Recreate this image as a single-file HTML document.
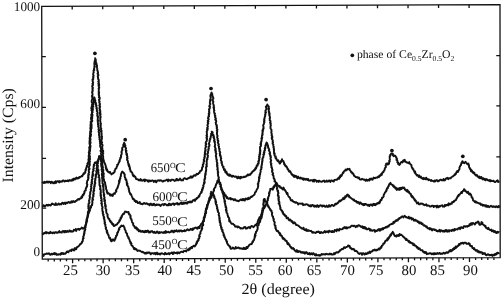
<!DOCTYPE html>
<html><head><meta charset="utf-8"><style>
html,body{margin:0;padding:0;background:#fff;}
body{width:503px;height:298px;overflow:hidden;}
svg{display:block;will-change:transform;}
text{font-family:"Liberation Serif",serif;fill:#111;text-rendering:geometricPrecision;}
</style></head><body>
<svg width="503" height="298" viewBox="0 0 503 298">
<rect width="503" height="298" fill="#fff"/>
<polygon points="41.7,6.35 500.0,4.6 500.2,257.55 42.3,259.05" fill="none" stroke="#111" stroke-width="1.3"/>
<path d="M48.18,259.03v2.4 M54.28,259.01v2.4 M60.39,258.99v2.4 M66.49,258.97v2.4 M72.60,258.95v4.4 M78.71,258.93v2.4 M84.81,258.91v2.4 M90.92,258.89v2.4 M97.02,258.87v2.4 M103.13,258.85v4.4 M109.24,258.83v2.4 M115.34,258.81v2.4 M121.45,258.79v2.4 M127.55,258.77v2.4 M133.66,258.75v4.4 M139.77,258.73v2.4 M145.87,258.71v2.4 M151.98,258.69v2.4 M158.08,258.67v2.4 M164.19,258.65v4.4 M170.30,258.63v2.4 M176.40,258.61v2.4 M182.51,258.59v2.4 M188.61,258.57v2.4 M194.72,258.55v4.4 M200.83,258.53v2.4 M206.93,258.51v2.4 M213.04,258.49v2.4 M219.14,258.47v2.4 M225.25,258.45v4.4 M231.36,258.43v2.4 M237.46,258.41v2.4 M243.57,258.39v2.4 M249.67,258.37v2.4 M255.78,258.35v4.4 M261.89,258.33v2.4 M267.99,258.31v2.4 M274.10,258.29v2.4 M280.20,258.27v2.4 M286.31,258.25v4.4 M292.42,258.23v2.4 M298.52,258.21v2.4 M304.63,258.19v2.4 M310.73,258.17v2.4 M316.84,258.15v4.4 M322.95,258.13v2.4 M329.05,258.11v2.4 M335.16,258.09v2.4 M341.26,258.07v2.4 M347.37,258.05v4.4 M353.48,258.03v2.4 M359.58,258.01v2.4 M365.69,257.99v2.4 M371.79,257.97v2.4 M377.90,257.95v4.4 M384.01,257.93v2.4 M390.11,257.91v2.4 M396.22,257.89v2.4 M402.32,257.87v2.4 M408.43,257.85v4.4 M414.54,257.83v2.4 M420.64,257.81v2.4 M426.75,257.79v2.4 M432.85,257.77v2.4 M438.96,257.75v4.4 M445.07,257.73v2.4 M451.17,257.71v2.4 M457.28,257.69v2.4 M463.38,257.67v2.4 M469.49,257.65v4.4 M475.60,257.63v2.4 M481.70,257.61v2.4 M487.81,257.59v2.4 M493.91,257.57v2.4 M72.20,6.23v3.2 M102.73,6.12v3.2 M133.26,6.00v3.2 M163.79,5.88v3.2 M194.32,5.77v3.2 M224.85,5.65v3.2 M255.38,5.53v3.2 M285.91,5.42v3.2 M316.44,5.30v3.2 M346.97,5.18v3.2 M377.50,5.07v3.2 M408.03,4.95v3.2 M438.56,4.83v3.2 M469.09,4.72v3.2 M42.18,208.10h4 M500.16,207.00h-3.8 M42.06,158.40h4 M500.12,156.90h-3.8 M41.94,107.30h4 M500.08,105.90h-3.8 M41.82,56.60h4 M500.04,55.60h-3.8" fill="none" stroke="#111" stroke-width="1.3"/>
<path d="M42.0,183.1L42.7,182.6L43.3,182.2L44.0,183.1L44.7,181.8L45.3,182.7L46.0,182.2L46.6,181.6L47.2,182.5L47.8,181.6L48.4,182.4L49.0,181.6L49.6,181.7L50.2,182.3L50.8,183.2L51.4,181.7L52.0,181.9L52.6,182.7L53.2,183.3L53.8,182.5L54.4,182.1L55.0,183.2L55.6,181.2L56.2,182.8L56.8,181.6L57.4,181.2L58.0,181.1L58.6,181.5L59.2,182.4L59.8,181.1L60.4,181.8L61.0,181.9L61.6,181.3L62.2,181.6L62.8,180.5L63.4,180.5L64.0,180.7L64.6,181.6L65.2,181.0L65.8,180.7L66.4,181.1L67.0,180.8L67.6,180.4L68.2,181.3L68.8,181.0L69.4,180.0L70.0,180.5L70.6,180.3L71.2,180.8L71.8,180.3L72.4,179.3L73.0,180.5L73.6,178.6L74.2,179.0L74.8,179.6L75.4,178.2L76.0,178.7L76.6,177.5L77.1,178.5L77.7,178.5L78.2,177.9L78.8,178.2L79.3,176.9L79.9,177.4L80.4,176.9L81.0,176.7L81.5,176.0L81.9,176.4L82.3,176.2L82.8,174.8L83.2,174.8L83.7,173.1L84.1,174.0L84.7,173.2L85.3,172.6L85.4,172.0L85.1,171.4L85.4,170.8L85.9,170.2L85.5,169.6L86.2,169.0L86.1,168.4L86.2,167.9L86.3,167.3L87.2,166.7L86.8,166.1L87.1,165.6L87.4,165.0L88.0,164.4L87.3,163.7L87.8,163.1L88.1,162.5L88.5,161.8L88.6,161.2L88.8,160.5L88.3,159.9L88.6,159.3L88.6,158.6L89.3,158.0L89.4,157.4L88.6,156.8L88.7,156.2L88.8,155.6L88.8,155.0L89.1,154.4L89.2,153.8L89.0,153.2L88.7,152.6L89.2,152.0L89.2,151.4L89.4,150.8L89.8,150.2L89.6,149.6L89.5,149.0L89.6,148.4L89.7,147.8L89.1,147.2L90.0,146.6L89.9,146.0L90.0,145.4L90.0,144.8L89.6,144.2L89.7,143.6L89.4,143.0L90.0,142.4L89.5,141.8L89.5,141.2L89.7,140.6L89.7,140.0L89.9,139.4L89.6,138.8L89.6,138.2L89.8,137.6L89.8,137.0L90.1,136.4L89.8,135.8L90.7,135.2L90.4,134.6L90.0,134.0L90.1,133.4L90.3,132.8L90.3,132.1L90.1,131.5L90.9,130.9L91.1,130.3L90.6,129.7L90.6,129.1L90.3,128.5L90.3,127.9L90.6,127.3L90.5,126.7L91.1,126.1L90.5,125.5L90.4,124.9L91.4,124.3L91.0,123.7L90.6,123.1L91.1,122.5L90.6,121.9L91.1,121.3L91.6,120.7L91.5,120.1L91.4,119.5L91.0,118.9L91.1,118.2L91.0,117.6L91.6,117.0L91.4,116.4L91.7,115.8L91.3,115.2L91.2,114.6L91.8,114.0L92.0,113.4L91.9,112.8L91.9,112.2L92.0,111.6L91.9,111.0L91.4,110.4L91.8,109.8L91.6,109.2L91.3,108.6L91.3,108.0L91.6,107.4L91.6,106.8L92.1,106.2L92.3,105.6L91.8,105.0L92.4,104.4L92.4,103.8L92.4,103.2L91.8,102.6L91.7,102.0L91.7,101.4L91.7,100.8L91.8,100.2L92.2,99.6L92.5,99.0L92.5,98.4L92.1,97.8L92.3,97.2L92.5,96.6L91.8,96.0L92.4,95.4L92.6,94.8L92.5,94.2L92.5,93.6L92.3,93.0L92.0,92.4L92.6,91.8L92.2,91.2L92.7,90.6L92.9,90.0L92.4,89.3L92.4,88.7L93.0,88.1L92.8,87.5L92.2,86.9L92.2,86.3L92.3,85.7L93.0,85.1L93.0,84.5L92.3,83.9L93.0,83.3L93.2,82.7L92.9,82.0L92.6,81.4L92.9,80.8L92.5,80.2L92.4,79.6L93.4,79.0L93.1,78.4L93.1,77.8L93.5,77.2L93.1,76.6L93.6,76.0L93.6,75.4L93.1,74.8L93.2,74.2L93.3,73.6L93.3,73.0L93.8,72.4L93.5,71.8L93.7,71.2L93.5,70.6L94.4,70.0L93.9,69.4L94.0,68.8L94.2,68.2L94.6,67.6L94.2,67.0L94.8,66.4L94.4,65.7L94.5,65.1L94.6,64.5L94.2,63.9L94.7,63.2L94.5,62.6L94.4,62.0L95.2,61.3L94.7,60.7L95.1,60.1L95.4,59.5L95.3,58.8L95.1,58.2L95.4,58.8L95.6,59.5L95.9,60.1L95.4,60.7L95.9,61.3L95.7,62.0L95.9,62.6L96.5,63.2L96.3,63.9L96.5,64.5L96.8,65.1L97.1,65.7L96.7,66.4L97.0,67.0L97.0,67.6L97.1,68.2L97.3,68.8L97.2,69.4L97.3,70.0L97.4,70.6L97.9,71.2L97.7,71.8L98.0,72.4L98.1,73.0L97.5,73.6L97.9,74.2L98.4,74.8L98.4,75.4L97.7,76.0L97.8,76.6L98.2,77.2L97.9,77.8L98.2,78.4L98.1,79.0L98.7,79.6L98.8,80.2L99.0,80.8L98.2,81.4L98.8,82.0L98.8,82.7L98.3,83.3L99.1,83.9L99.2,84.5L98.4,85.1L99.2,85.7L98.7,86.3L98.8,86.9L99.3,87.5L99.2,88.1L98.5,88.7L98.8,89.3L98.9,90.0L98.8,90.6L98.6,91.2L98.8,91.8L99.2,92.4L98.5,93.0L99.1,93.6L99.0,94.2L98.6,94.8L99.0,95.4L99.3,96.0L99.2,96.6L98.8,97.2L99.8,97.8L99.6,98.4L99.8,99.0L99.0,99.6L99.2,100.2L99.0,100.8L99.7,101.4L99.3,102.0L99.2,102.6L99.5,103.2L100.0,103.8L100.0,104.4L99.4,105.0L99.3,105.6L100.2,106.2L99.8,106.8L100.0,107.4L99.4,108.0L99.4,108.6L100.1,109.2L99.9,109.8L99.5,110.4L100.4,111.0L100.2,111.6L100.4,112.2L99.7,112.8L100.5,113.4L99.8,114.0L100.6,114.6L100.2,115.2L100.1,115.8L100.4,116.4L100.8,117.0L100.2,117.6L100.1,118.2L100.5,118.9L100.3,119.5L100.2,120.1L100.3,120.7L100.2,121.3L100.4,121.9L100.5,122.5L100.6,123.1L101.0,123.7L100.6,124.3L100.9,124.9L100.6,125.5L100.8,126.1L100.5,126.7L100.8,127.3L100.6,127.9L101.3,128.5L101.2,129.1L100.9,129.7L101.2,130.3L101.7,130.9L100.9,131.5L101.6,132.1L101.3,132.8L101.4,133.4L101.8,134.0L101.4,134.6L101.5,135.2L101.7,135.8L102.1,136.4L101.5,137.0L102.0,137.6L101.9,138.2L101.9,138.8L101.7,139.4L101.6,140.0L101.4,140.6L101.5,141.2L101.5,141.8L102.2,142.4L101.8,143.0L101.8,143.6L101.7,144.2L102.5,144.8L102.6,145.4L102.5,146.0L102.1,146.6L102.1,147.2L102.2,147.8L102.5,148.4L102.2,149.0L102.5,149.6L102.4,150.2L103.2,150.8L103.2,151.4L102.8,152.0L102.6,152.6L103.4,153.2L102.8,153.8L102.9,154.4L102.6,155.0L103.0,155.6L103.1,156.2L103.2,156.8L103.0,157.4L103.3,158.0L103.0,158.6L103.4,159.2L103.4,159.8L103.9,160.4L103.7,161.0L103.8,161.6L104.3,162.2L104.4,162.8L104.9,163.4L105.0,164.0L105.4,164.6L105.4,165.2L105.7,165.8L106.0,166.4L105.7,167.0L105.8,167.6L106.6,168.2L105.9,168.8L106.7,169.4L106.6,170.3L107.1,169.5L107.6,171.4L108.0,171.9L108.5,171.7L109.0,172.3L109.5,172.8L110.0,171.9L110.4,173.0L110.9,173.3L111.4,174.4L111.9,174.0L112.5,173.7L113.0,172.9L113.5,173.2L114.1,172.4L114.8,171.7L114.6,171.1L114.6,170.6L115.0,170.0L115.4,169.5L115.4,168.9L116.4,168.3L116.4,167.8L116.7,167.2L116.9,166.6L117.2,166.1L117.3,165.5L117.1,165.0L117.8,165.0L118.1,164.3L118.4,163.3L118.7,162.8L119.1,162.4L119.4,160.7L119.7,161.4L119.8,160.4L119.7,159.8L120.0,159.2L120.6,158.6L120.2,158.0L120.9,157.4L121.2,156.8L120.9,156.3L120.9,155.7L121.1,155.1L121.5,154.5L121.7,153.9L121.7,153.3L121.8,152.7L121.4,152.1L121.6,151.5L121.8,150.9L122.4,150.3L122.1,149.7L122.5,149.2L122.1,148.6L122.2,148.0L122.6,147.4L123.1,146.8L123.3,146.2L123.4,145.6L123.2,144.9L123.7,144.2L123.9,143.5L124.2,142.8L124.0,143.4L124.9,144.0L124.4,144.7L125.3,145.3L125.4,145.9L124.7,146.5L125.3,147.1L125.8,147.8L126.1,148.4L125.7,149.0L125.7,149.6L125.7,150.2L126.5,150.8L125.9,151.4L126.4,152.1L126.0,152.7L126.5,153.3L127.1,153.9L126.3,154.5L127.1,155.1L126.9,155.7L127.4,156.3L127.3,156.9L126.9,157.6L127.7,158.2L127.4,158.8L127.0,159.4L127.1,160.0L127.7,160.6L127.9,161.2L127.9,161.8L127.8,162.4L128.2,163.0L128.3,163.6L129.0,164.2L128.3,164.8L129.2,165.3L129.4,165.9L128.9,166.5L129.8,167.1L129.8,167.7L130.1,168.3L129.6,168.9L130.0,169.2L130.3,169.8L130.6,171.6L130.9,171.3L131.2,171.4L131.5,172.1L131.8,172.4L132.1,172.4L132.4,173.1L132.7,175.1L133.0,174.6L133.4,176.3L133.9,175.4L134.3,175.8L134.7,176.7L135.1,176.5L135.6,177.3L136.0,178.9L136.6,179.1L137.1,179.2L137.7,179.1L138.3,180.0L138.9,180.3L139.4,179.8L140.0,180.4L140.6,179.1L141.2,180.6L141.8,180.1L142.4,180.7L143.0,180.5L143.6,179.9L144.2,179.4L144.8,181.3L145.4,179.7L146.0,180.4L146.6,180.2L147.2,180.2L147.8,181.2L148.4,181.7L149.0,180.3L149.6,181.2L150.2,180.6L150.8,181.2L151.4,180.9L152.0,180.5L152.6,180.5L153.2,180.6L153.8,182.0L154.4,181.2L155.1,180.6L155.7,182.0L156.3,182.2L156.9,181.1L157.5,180.4L158.2,180.5L158.8,180.3L159.4,180.7L160.1,180.2L160.7,180.5L161.4,180.5L162.0,181.0L162.6,181.6L163.3,181.3L163.9,180.6L164.5,180.6L165.1,180.7L165.7,180.4L166.3,180.2L166.9,179.6L167.5,180.0L168.1,181.3L168.7,179.6L169.4,180.3L170.0,180.5L170.7,181.0L171.3,179.6L171.9,179.7L172.6,179.6L173.2,179.9L173.9,179.9L174.5,180.9L175.2,180.6L175.8,180.6L176.4,178.9L177.0,178.9L177.6,180.2L178.2,180.5L178.8,179.6L179.4,179.8L180.0,178.6L180.6,179.3L181.2,180.4L181.8,180.1L182.4,180.1L183.0,180.3L183.6,178.7L184.3,178.3L184.9,178.2L185.5,178.8L186.1,178.9L186.8,179.3L187.4,178.6L188.0,178.3L188.7,178.4L189.3,177.6L189.9,177.6L190.5,176.4L191.2,177.7L191.8,176.4L192.4,177.5L192.9,176.7L193.5,175.8L194.1,175.2L194.6,175.2L195.2,175.7L195.7,175.6L196.3,174.2L196.9,173.8L197.5,174.3L198.0,174.1L198.6,173.3L199.2,172.6L199.6,172.8L200.1,171.0L200.6,171.0L201.0,170.8L201.7,170.2L201.6,169.6L202.1,169.1L202.0,168.5L202.0,167.9L202.2,167.3L203.1,166.6L203.1,166.0L202.8,165.3L202.7,164.7L203.4,164.0L203.7,163.4L203.5,162.8L203.5,162.2L204.0,161.6L204.4,160.9L203.8,160.3L203.7,159.7L204.1,159.1L204.3,158.5L204.7,157.9L204.2,157.3L204.9,156.7L204.9,156.1L204.7,155.5L204.5,154.9L205.3,154.3L204.8,153.7L205.3,153.1L204.8,152.5L204.9,151.9L205.5,151.3L205.1,150.7L205.8,150.1L205.4,149.5L205.2,148.9L205.3,148.2L205.5,147.6L205.9,147.0L206.2,146.4L205.5,145.8L205.8,145.2L205.7,144.6L206.5,144.0L205.7,143.4L205.7,142.8L205.8,142.2L206.2,141.6L206.8,141.0L206.8,140.4L206.7,139.8L207.1,139.2L207.1,138.6L206.5,138.0L206.4,137.4L207.2,136.7L207.1,136.1L206.4,135.5L207.1,134.9L206.8,134.2L206.9,133.6L206.9,133.0L206.8,132.3L206.6,131.7L207.0,131.1L207.1,130.5L207.7,129.8L206.9,129.2L207.8,128.6L207.1,128.0L207.4,127.4L207.9,126.8L207.9,126.2L207.6,125.6L207.3,125.0L207.8,124.4L207.8,123.8L208.4,123.1L207.7,122.5L207.9,121.9L208.5,121.3L207.7,120.7L208.2,120.1L208.7,119.5L208.7,118.9L208.0,118.3L208.1,117.7L208.2,117.1L209.1,116.5L208.5,115.9L209.0,115.3L209.2,114.7L208.7,114.1L208.7,113.5L209.5,112.9L209.2,112.3L208.9,111.7L209.4,111.0L209.1,110.4L209.1,109.8L208.9,109.2L209.7,108.6L209.9,108.0L209.7,107.4L210.1,106.8L209.2,106.2L209.5,105.6L209.8,105.0L210.3,104.4L210.4,103.8L209.8,103.1L209.8,102.5L210.0,101.9L210.1,101.2L210.6,100.6L209.9,100.0L210.6,99.4L210.5,98.8L210.7,98.1L210.7,97.5L210.6,96.9L210.3,96.2L210.4,95.6L210.6,94.7L210.9,94.9L211.3,92.9L211.6,92.5L211.9,94.2L212.3,93.9L212.2,95.0L212.2,95.6L212.8,96.2L212.6,96.9L213.3,97.5L213.2,98.1L213.4,98.8L212.7,99.4L212.6,100.0L212.6,100.6L213.1,101.2L213.4,101.9L213.1,102.5L213.0,103.1L213.2,103.8L213.5,104.4L213.6,105.0L213.7,105.6L213.9,106.2L213.8,106.8L213.4,107.4L214.2,108.0L213.7,108.6L214.1,109.2L214.0,109.8L214.4,110.4L214.0,111.0L214.1,111.7L214.2,112.3L214.2,112.9L215.0,113.5L214.8,114.1L214.7,114.7L214.8,115.3L215.5,115.9L215.1,116.5L214.9,117.1L215.6,117.7L215.5,118.3L216.0,118.9L215.2,119.5L215.6,120.1L216.1,120.7L216.2,121.3L216.3,121.9L215.6,122.5L215.9,123.1L215.8,123.8L216.0,124.4L216.8,125.0L216.5,125.6L217.0,126.2L216.5,126.8L217.1,127.4L216.8,128.0L216.7,128.6L217.3,129.2L217.5,129.8L216.7,130.5L217.2,131.1L217.3,131.7L216.9,132.3L217.1,133.0L216.9,133.6L217.0,134.2L217.1,134.9L217.5,135.5L217.6,136.1L217.2,136.7L217.1,137.4L217.4,138.0L217.9,138.6L217.5,139.2L217.7,139.8L217.7,140.4L218.4,141.0L218.2,141.6L217.8,142.2L217.9,142.8L218.3,143.4L218.6,144.0L218.8,144.6L218.3,145.2L218.5,145.8L219.1,146.5L218.9,147.1L218.9,147.7L219.0,148.3L219.7,148.9L219.2,149.5L219.5,150.1L219.4,150.7L219.5,151.3L220.1,151.9L220.3,152.5L219.8,153.1L219.7,153.7L220.3,154.3L219.9,154.9L219.8,155.5L220.9,156.1L220.5,156.7L221.0,157.3L220.7,157.9L221.3,158.6L221.0,159.2L220.8,159.8L220.8,160.4L221.4,161.0L221.6,161.6L222.0,162.2L221.3,162.8L221.9,163.4L221.9,164.0L222.3,164.6L222.1,165.1L222.5,165.7L222.9,166.3L223.6,166.8L223.0,167.4L223.6,168.0L223.9,169.2L224.2,170.1L224.6,169.1L224.9,169.6L225.2,171.8L225.5,172.5L225.9,171.9L226.4,171.5L226.8,173.8L227.2,173.2L227.6,174.7L228.1,174.6L228.5,175.4L229.1,174.3L229.7,175.8L230.3,174.8L230.9,175.4L231.5,176.5L232.1,176.7L232.7,175.6L233.3,175.8L233.9,176.4L234.5,176.8L235.1,176.8L235.7,176.4L236.3,176.8L236.9,177.8L237.5,178.3L238.2,176.6L238.8,177.8L239.4,178.2L240.0,176.9L240.6,178.4L241.2,176.8L241.8,177.6L242.4,177.4L243.0,177.4L243.6,176.7L244.2,176.8L244.8,177.0L245.4,176.4L245.9,176.6L246.5,175.9L247.0,175.6L247.6,174.5L248.1,175.5L248.7,174.9L249.2,174.2L249.8,175.0L250.3,174.7L250.9,173.8L251.4,172.8L251.8,172.9L252.3,171.7L252.8,171.3L253.2,171.4L253.7,170.3L254.2,170.5L254.6,170.2L255.1,168.8L255.4,169.4L255.6,167.8L255.9,168.5L256.2,168.1L256.5,167.0L256.7,165.5L257.0,165.9L257.3,165.1L257.6,165.7L257.8,163.5L258.5,163.7L258.7,163.1L258.6,162.5L258.8,161.9L258.2,161.3L259.1,160.7L258.8,160.1L259.3,159.5L259.4,158.8L258.8,158.2L259.5,157.6L259.8,157.0L259.0,156.4L259.4,155.8L259.9,155.2L259.4,154.6L260.3,154.0L259.7,153.4L260.3,152.8L259.7,152.2L260.1,151.6L260.6,151.0L259.9,150.4L260.0,149.8L260.3,149.2L260.1,148.6L259.9,148.0L260.1,147.4L260.1,146.8L260.9,146.2L260.8,145.6L261.1,145.0L260.4,144.4L261.1,143.8L260.6,143.2L261.1,142.6L261.3,142.0L261.1,141.4L261.7,140.8L261.5,140.1L261.6,139.5L262.0,138.9L261.3,138.3L262.3,137.7L262.0,137.1L261.8,136.5L262.3,135.9L261.9,135.3L262.7,134.7L262.4,134.1L262.3,133.5L262.8,132.9L262.5,132.3L262.4,131.7L263.0,131.1L262.4,130.5L263.3,129.9L262.8,129.3L263.3,128.7L263.7,128.1L263.4,127.4L263.6,126.8L263.3,126.2L263.1,125.6L263.3,125.0L263.5,124.4L264.0,123.8L263.9,123.2L264.1,122.6L264.6,122.0L263.9,121.4L264.1,120.8L264.6,120.2L264.1,119.6L264.2,119.0L264.6,118.4L264.5,117.8L264.8,117.2L264.8,116.6L265.2,116.0L265.3,115.4L265.0,114.8L265.5,114.2L265.5,113.6L265.2,112.9L266.1,112.3L265.5,111.7L265.4,111.0L265.5,110.4L266.1,109.8L266.4,109.2L266.4,108.5L266.1,107.9L266.0,107.3L265.8,106.6L266.4,106.3L266.9,105.5L267.3,104.5L267.9,105.7L268.3,106.0L268.9,106.6L268.8,107.2L268.4,107.8L269.1,108.5L268.3,109.1L268.9,109.7L268.8,110.3L268.8,110.9L268.7,111.5L269.4,112.2L268.8,112.8L269.4,113.4L269.8,114.0L269.1,114.6L269.2,115.2L269.7,115.9L269.7,116.5L269.9,117.1L270.1,117.8L269.6,118.4L269.8,119.0L269.8,119.6L269.6,120.2L270.5,120.9L270.5,121.5L270.5,122.1L269.9,122.8L270.8,123.4L270.7,124.0L270.5,124.6L270.9,125.2L270.7,125.9L270.5,126.5L270.4,127.1L270.6,127.8L270.5,128.4L270.9,129.0L271.4,129.6L271.4,130.2L271.6,130.9L271.5,131.5L271.2,132.1L271.5,132.8L271.5,133.4L271.9,134.0L271.7,134.6L271.5,135.2L272.0,135.8L272.4,136.4L271.7,137.1L272.5,137.7L271.7,138.3L272.0,138.9L272.1,139.5L272.6,140.1L272.9,140.7L272.8,141.3L272.5,141.9L273.1,142.5L272.6,143.1L272.6,143.8L273.4,144.4L273.2,145.0L273.3,145.6L273.4,146.2L273.8,146.8L273.4,147.4L273.8,148.0L273.8,148.6L274.1,149.2L273.7,149.8L274.1,150.4L274.1,151.0L273.9,151.6L273.9,152.2L274.4,152.8L274.0,153.4L274.9,154.0L274.4,154.6L274.5,155.2L274.7,155.8L275.8,156.4L275.4,157.0L275.4,157.6L275.5,158.2L276.2,157.9L276.6,159.7L277.0,160.0L277.4,160.6L277.8,161.2L278.3,160.3L278.7,161.8L279.1,161.9L279.5,163.3L279.9,163.7L280.2,163.4L280.6,161.2L280.9,162.2L281.3,161.8L281.6,161.3L282.0,159.1L282.0,159.4L282.2,160.0L282.3,160.5L283.4,161.1L283.6,161.6L283.6,162.2L284.1,162.7L284.1,163.2L284.0,163.8L284.1,164.3L284.7,164.1L285.1,165.9L285.4,165.3L285.8,166.0L286.1,166.7L286.5,166.3L286.9,167.3L287.2,167.8L287.6,169.2L287.9,169.0L288.3,169.3L288.7,171.1L289.1,170.7L289.5,171.9L289.9,171.9L290.3,171.3L290.7,172.5L291.1,173.1L291.5,174.2L291.9,173.9L292.3,175.1L292.7,175.3L293.1,175.1L293.7,176.7L294.2,175.3L294.8,177.0L295.3,176.0L295.9,175.8L296.4,176.5L297.0,177.8L297.6,178.4L298.2,176.6L298.8,177.7L299.4,177.9L300.1,178.6L300.7,177.6L301.3,178.3L301.9,178.2L302.5,179.3L303.1,178.3L303.7,179.8L304.3,178.6L304.9,178.6L305.6,179.7L306.2,179.4L306.8,178.8L307.4,179.9L308.0,178.9L308.6,180.5L309.3,180.4L309.9,180.7L310.5,180.5L311.1,180.1L311.7,180.3L312.3,180.3L313.0,181.4L313.6,179.8L314.2,181.5L314.8,179.8L315.5,180.2L316.1,180.4L316.7,181.8L317.3,181.0L318.0,180.8L318.6,181.9L319.2,180.7L319.8,181.1L320.4,181.3L321.0,181.7L321.7,181.7L322.3,181.5L322.9,180.9L323.5,180.9L324.1,180.5L324.7,181.9L325.4,181.5L326.0,181.7L326.6,180.5L327.2,181.1L327.8,181.7L328.5,181.3L329.1,180.4L329.8,181.0L330.4,181.9L331.1,180.5L331.7,180.4L332.4,180.6L333.0,181.4L333.7,181.5L334.4,180.0L335.1,179.8L335.8,179.9L336.5,179.9L337.0,179.8L337.5,178.6L338.0,178.5L338.5,177.8L339.0,179.0L339.4,178.0L339.8,176.2L340.2,177.4L340.6,175.2L341.0,175.3L341.4,176.0L341.8,175.1L342.2,174.5L342.6,173.4L343.0,172.4L343.5,172.8L344.0,171.2L344.5,170.9L345.0,170.8L345.5,169.6L346.0,169.9L346.5,170.3L347.0,169.6L347.5,168.8L348.2,169.3L348.8,169.2L349.5,168.8L349.9,170.2L350.3,170.3L350.8,171.5L351.2,172.3L351.6,171.9L352.0,172.6L352.4,173.5L352.9,173.3L353.3,173.5L353.7,174.9L354.1,175.8L354.6,176.0L355.0,176.4L355.6,177.0L356.1,177.0L356.7,177.3L357.2,177.2L357.8,177.3L358.3,178.3L358.9,177.5L359.4,178.5L360.0,179.6L360.6,179.5L361.2,179.5L361.9,178.8L362.5,179.2L363.1,179.4L363.8,179.8L364.4,179.5L365.0,180.2L365.6,180.8L366.2,179.4L366.9,180.4L367.5,180.8L368.1,179.8L368.7,179.8L369.4,180.6L370.0,178.6L370.6,179.4L371.2,178.5L371.9,179.5L372.5,179.7L373.1,178.6L373.7,177.6L374.3,178.3L374.8,178.0L375.4,178.2L376.0,177.5L376.6,177.6L377.2,177.7L377.8,176.9L378.3,176.5L378.9,177.3L379.5,175.6L379.9,176.1L380.4,175.1L380.8,175.4L381.3,173.7L381.7,174.9L382.2,173.2L382.6,172.2L383.1,172.2L383.4,172.2L383.3,171.6L383.9,171.0L384.2,170.4L384.7,169.8L384.6,169.2L384.8,168.6L385.0,168.0L385.7,167.4L386.0,166.8L385.7,166.2L385.5,165.5L386.2,164.9L386.0,164.1L386.6,163.6L387.2,163.3L387.8,164.5L388.4,164.4L389.1,163.7L389.0,163.1L389.2,162.5L389.0,161.9L389.8,161.2L389.2,160.6L389.6,160.0L389.9,159.4L389.9,158.8L389.7,158.2L389.6,157.6L389.9,156.9L389.6,156.3L390.4,155.7L390.1,154.8L390.6,155.3L391.1,153.6L391.6,153.4L392.4,153.4L393.0,154.1L392.9,154.7L392.9,155.3L393.7,156.0L393.6,156.2L394.1,155.8L394.6,155.5L395.1,155.6L395.4,156.0L395.8,156.9L396.3,157.1L396.1,157.8L396.9,158.4L397.0,159.1L396.3,159.8L397.3,160.4L397.5,161.1L397.6,161.7L397.2,162.2L398.2,162.8L398.2,163.4L397.9,163.9L398.6,163.5L399.4,165.0L400.1,164.0L400.6,162.9L401.2,162.2L401.7,162.0L402.1,161.7L402.5,162.4L402.9,161.1L403.4,160.3L403.8,161.3L404.2,160.7L404.7,159.8L405.2,161.7L405.7,161.5L406.2,162.3L406.8,162.2L407.4,162.9L408.0,162.9L408.6,163.2L409.2,162.1L409.6,163.5L410.0,163.7L410.5,164.5L410.8,164.5L411.5,165.1L411.5,165.7L411.5,166.3L411.7,166.9L411.9,167.4L412.5,168.0L412.3,168.6L413.0,169.2L413.3,169.1L413.7,170.3L414.0,170.9L414.4,171.5L414.7,172.7L415.1,171.5L415.4,173.7L415.8,173.5L416.1,174.2L416.5,174.9L417.0,175.6L417.6,175.1L418.1,175.5L418.7,176.9L419.2,175.5L419.8,177.0L420.3,177.4L420.9,176.5L421.4,178.0L422.0,178.3L422.6,178.9L423.2,177.8L423.8,179.2L424.4,178.3L425.0,178.4L425.6,179.3L426.2,177.7L426.8,179.3L427.4,179.3L427.9,179.0L428.5,180.2L429.1,179.5L429.7,179.9L430.3,180.2L430.9,181.0L431.4,180.1L432.0,180.7L432.6,180.9L433.2,181.1L433.8,181.6L434.4,180.5L435.0,181.5L435.6,180.5L436.2,180.7L436.8,180.1L437.4,180.5L438.0,181.4L438.6,180.7L439.2,180.9L439.9,179.9L440.5,179.8L441.1,179.7L441.7,180.2L442.3,180.2L442.9,180.5L443.6,178.9L444.2,180.2L444.8,180.5L445.4,179.6L446.0,178.4L446.6,178.6L447.2,177.8L447.8,178.0L448.3,179.2L448.9,178.4L449.5,178.3L450.1,178.3L450.7,178.3L451.2,177.3L451.8,177.0L452.4,176.6L452.9,176.4L453.4,175.8L454.0,175.6L454.6,174.3L455.1,174.8L455.5,173.9L455.9,174.0L456.3,172.2L456.7,171.9L457.2,171.1L457.6,172.1L458.0,171.9L458.4,170.9L458.7,170.1L459.3,169.5L459.5,168.9L459.5,168.3L459.4,167.7L459.7,167.1L460.0,166.6L460.2,166.0L460.5,165.4L460.9,164.8L461.0,165.1L461.4,162.8L461.8,163.2L462.1,161.6L462.5,161.2L463.1,162.8L463.7,162.4L464.3,163.3L464.9,162.5L465.5,161.7L466.1,162.6L466.7,163.2L467.2,164.1L467.8,164.3L468.4,163.5L468.5,164.1L468.4,164.7L469.1,165.3L468.9,165.9L469.1,166.5L469.1,167.1L469.3,167.7L470.2,168.3L469.8,168.9L470.9,169.5L470.6,169.3L471.0,171.3L471.5,170.2L471.9,170.5L472.4,172.3L472.8,171.8L473.3,173.2L473.8,172.5L474.3,172.6L474.8,174.5L475.3,174.8L475.8,175.5L476.3,175.6L476.8,174.8L477.3,176.3L477.8,176.7L478.4,176.5L478.9,177.7L479.4,176.6L480.0,178.3L480.5,178.1L481.1,176.9L481.6,177.2L482.1,178.8L482.7,179.4L483.2,178.2L483.8,178.8L484.4,179.8L485.0,178.8L485.6,180.3L486.1,179.7L486.7,179.0L487.3,179.8L487.9,180.3L488.5,180.2L489.1,180.9L489.8,179.9L490.4,181.3L491.1,180.5L491.7,181.1L492.4,181.1L493.0,180.8L493.7,180.8L494.3,181.7L495.0,182.1L495.6,181.8L496.3,181.3L496.9,180.8L497.6,180.3L498.2,182.1L498.9,181.6L499.5,181.2" fill="none" stroke="#111" stroke-width="1.9" stroke-linejoin="round"/>
<path d="M42.4,205.7L43.0,206.3L43.6,205.2L44.2,205.7L44.8,206.4L45.4,206.0L46.0,205.5L46.6,204.8L47.2,205.0L47.8,205.8L48.4,204.7L49.0,205.2L49.7,205.0L50.3,205.5L50.9,205.3L51.5,204.1L52.1,203.5L52.7,204.0L53.3,204.2L53.9,204.5L54.5,204.9L55.1,205.0L55.7,203.2L56.3,204.7L56.9,204.6L57.5,204.7L58.1,204.0L58.7,203.4L59.3,204.5L59.9,204.3L60.5,204.0L61.2,204.4L61.8,203.2L62.4,202.7L63.0,203.5L63.6,204.0L64.2,202.7L64.8,203.7L65.4,204.0L66.0,202.5L66.6,203.1L67.2,203.2L67.8,202.6L68.4,202.0L69.0,202.0L69.6,202.9L70.2,202.9L70.8,202.1L71.4,201.2L72.0,202.5L72.6,202.2L73.2,201.0L73.8,201.6L74.4,202.0L75.0,201.9L75.6,201.0L76.2,200.8L76.7,200.7L77.3,199.6L77.8,199.3L78.4,199.0L78.9,199.8L79.5,198.8L80.0,198.9L80.6,198.3L81.1,198.2L81.4,197.0L81.8,196.2L82.1,197.6L82.5,195.9L82.8,194.8L83.2,195.3L83.5,195.1L83.9,193.3L84.3,193.5L84.3,192.9L84.6,192.3L84.3,191.7L84.6,191.1L85.7,190.5L85.8,190.0L85.6,189.4L85.9,188.8L85.8,188.2L86.6,187.6L86.4,187.0L87.1,186.4L87.0,185.8L87.2,185.1L87.4,184.5L86.8,183.9L86.7,183.3L87.0,182.7L87.1,182.1L87.1,181.4L87.2,180.8L87.8,180.2L88.2,179.6L87.9,179.0L88.5,178.3L88.6,177.7L87.9,177.1L88.5,176.5L88.3,175.9L88.1,175.3L89.0,174.7L88.3,174.1L88.7,173.5L88.8,172.9L89.2,172.3L89.0,171.7L88.7,171.1L88.9,170.4L88.6,169.8L89.5,169.2L89.6,168.6L88.8,168.0L88.7,167.4L89.0,166.8L89.1,166.2L89.7,165.6L89.8,165.0L89.8,164.4L89.0,163.8L89.8,163.2L89.7,162.6L89.7,162.0L90.0,161.3L89.1,160.7L89.2,160.1L89.9,159.5L90.1,158.9L89.8,158.3L89.5,157.7L89.8,157.1L90.0,156.5L89.3,155.9L89.6,155.2L89.5,154.6L89.4,154.0L89.8,153.4L89.5,152.8L89.6,152.2L89.5,151.6L90.1,151.0L89.4,150.4L90.2,149.8L89.7,149.1L89.5,148.5L90.4,147.9L89.8,147.3L90.5,146.7L90.4,146.1L90.5,145.5L89.8,144.9L90.1,144.3L89.8,143.7L90.6,143.0L90.6,142.4L90.4,141.8L90.2,141.2L90.1,140.6L90.6,140.0L90.3,139.4L90.5,138.8L90.1,138.2L90.2,137.6L90.1,137.0L90.8,136.4L90.7,135.8L90.3,135.2L91.1,134.6L90.5,134.0L90.7,133.4L90.5,132.8L90.7,132.1L91.3,131.5L90.8,130.9L90.7,130.3L91.1,129.7L90.9,129.1L91.6,128.5L90.8,127.9L91.7,127.3L90.9,126.7L91.7,126.1L91.6,125.5L91.2,124.9L91.5,124.3L91.3,123.7L91.3,123.1L91.3,122.5L91.5,121.9L92.2,121.3L92.3,120.7L92.2,120.1L91.5,119.5L91.7,118.9L92.3,118.2L91.6,117.6L92.3,117.0L91.9,116.4L92.6,115.8L91.7,115.2L92.5,114.6L92.1,114.0L92.0,113.4L91.9,112.8L92.7,112.2L92.5,111.6L92.2,111.0L92.5,110.4L93.1,109.8L92.4,109.2L92.9,108.6L92.5,108.0L92.6,107.4L93.3,106.8L93.3,106.2L92.9,105.6L92.8,105.0L92.9,104.4L93.5,103.9L93.5,103.3L93.3,102.7L93.3,102.1L93.8,101.5L94.0,100.9L94.1,100.3L94.0,99.7L93.7,99.1L93.6,98.5L94.4,97.9L94.1,97.3L94.6,97.9L94.0,98.5L94.9,99.1L94.6,99.7L95.3,100.3L95.4,100.9L95.2,101.5L94.9,102.1L95.9,102.7L95.6,103.2L96.2,103.8L95.7,104.4L95.8,105.0L96.6,105.6L96.2,106.2L96.2,106.8L96.5,107.4L96.9,108.0L96.4,108.6L96.9,109.2L96.9,109.8L97.0,110.4L96.7,111.0L97.4,111.6L97.5,112.2L97.6,112.8L97.1,113.4L97.6,114.0L97.3,114.6L97.7,115.2L97.1,115.8L98.0,116.5L98.1,117.1L97.7,117.7L97.8,118.3L97.8,118.9L97.9,119.5L97.5,120.1L98.5,120.7L97.8,121.3L97.8,121.9L97.8,122.5L98.0,123.1L98.6,123.7L97.9,124.3L98.0,124.9L98.6,125.5L98.2,126.1L98.1,126.7L98.7,127.3L98.7,127.9L98.7,128.5L99.0,129.1L98.4,129.7L99.3,130.3L99.2,130.9L98.6,131.5L98.7,132.2L99.1,132.8L99.2,133.4L99.0,134.0L98.9,134.6L99.3,135.2L99.0,135.8L99.6,136.4L99.9,137.0L99.2,137.6L99.7,138.2L99.9,138.8L99.4,139.4L100.1,140.0L100.3,140.6L99.8,141.2L99.9,141.8L100.4,142.4L100.1,143.0L100.0,143.6L100.6,144.2L100.5,144.8L100.1,145.4L100.1,146.0L100.3,146.6L100.4,147.2L101.0,147.8L100.9,148.4L101.1,149.0L101.0,149.6L101.1,150.2L100.4,150.8L100.9,151.4L101.4,152.0L101.4,152.6L100.8,153.2L101.0,153.8L101.3,154.4L101.1,155.0L101.3,155.6L100.9,156.2L101.3,156.8L101.4,157.4L101.0,158.0L101.2,158.6L102.1,159.2L102.0,159.8L102.2,160.4L102.0,161.1L102.3,161.7L102.4,162.3L102.5,162.9L101.7,163.5L102.4,164.1L102.1,164.7L102.6,165.3L102.2,165.9L102.6,166.6L103.0,167.2L102.8,167.8L102.5,168.4L102.9,169.0L102.9,169.6L103.5,170.2L102.9,170.8L103.0,171.4L103.4,172.1L102.9,172.7L103.5,173.3L103.9,173.9L103.5,174.5L103.4,175.1L103.6,175.7L103.8,176.3L103.5,176.9L103.5,177.6L103.6,178.2L103.8,178.8L104.0,179.4L104.0,180.0L104.1,180.6L104.1,181.2L104.7,181.8L105.1,182.3L105.0,182.9L105.1,183.5L105.4,184.1L105.1,184.7L105.7,185.3L105.6,185.9L105.8,186.4L106.1,187.0L106.1,187.6L106.0,188.2L106.1,188.8L106.2,189.4L106.7,190.0L106.7,190.6L107.0,191.1L106.6,191.7L107.1,192.3L107.4,193.6L107.9,192.7L108.5,193.6L109.0,193.8L109.5,193.7L110.1,195.4L110.6,194.4L111.1,195.6L111.7,194.7L112.2,194.8L112.7,196.0L113.1,194.8L113.6,193.6L114.0,193.9L114.5,193.6L114.9,193.8L115.0,192.9L115.3,192.3L116.3,191.7L116.3,191.1L115.9,190.5L116.3,189.9L116.5,189.3L117.1,188.7L117.2,188.2L117.7,187.6L117.9,187.0L117.8,186.4L118.2,185.8L118.4,185.2L118.6,184.6L118.6,184.0L119.0,183.4L119.1,182.8L119.5,182.2L118.8,181.7L119.7,181.1L119.0,180.5L119.9,179.9L119.9,179.3L119.9,178.7L120.5,178.2L120.3,177.6L120.3,177.0L120.8,176.4L121.0,175.8L120.9,175.2L120.8,174.7L121.1,174.1L121.2,173.5L121.4,173.3L122.0,171.9L122.5,171.6L123.2,172.5L123.8,172.9L123.9,173.5L124.5,174.1L124.8,174.6L124.6,175.2L124.7,175.8L124.6,176.4L124.9,176.9L124.9,177.5L125.5,178.1L125.7,178.7L125.4,179.3L126.4,179.8L126.0,180.4L126.6,181.0L126.8,181.6L127.1,182.2L126.5,182.8L126.9,183.4L127.6,183.9L126.8,184.5L127.0,185.1L127.7,185.7L127.8,186.3L128.4,186.9L128.4,187.5L128.4,188.1L129.0,188.7L128.7,189.3L128.8,189.8L129.2,190.4L129.1,191.0L129.2,191.6L129.5,192.4L129.8,192.5L130.1,194.2L130.5,194.2L130.8,194.5L131.1,194.2L131.4,195.3L131.7,195.9L132.1,196.8L132.4,197.4L132.7,198.6L133.1,199.2L133.5,198.7L133.9,199.1L134.3,199.9L134.7,201.1L135.1,200.3L135.5,201.1L135.9,202.1L136.5,201.1L137.2,201.6L137.8,203.1L138.4,203.0L139.1,202.6L139.7,202.0L140.4,203.8L141.0,203.6L141.6,203.9L142.2,204.3L142.8,204.2L143.4,203.4L144.0,202.9L144.6,203.3L145.2,203.8L145.8,203.8L146.4,203.3L147.0,203.4L147.6,204.3L148.2,204.4L148.9,203.9L149.5,205.3L150.1,204.6L150.8,203.5L151.4,204.3L152.0,205.2L152.6,204.2L153.2,205.0L153.8,203.7L154.5,204.3L155.1,205.4L155.7,204.9L156.3,205.1L156.9,204.2L157.5,204.8L158.2,204.9L158.8,204.4L159.4,205.2L160.0,205.0L160.6,205.9L161.2,205.0L161.9,204.7L162.5,204.1L163.1,204.2L163.8,205.3L164.4,204.0L165.0,204.0L165.6,204.1L166.2,204.8L166.9,205.4L167.5,205.0L168.1,205.4L168.8,203.8L169.4,203.7L170.0,205.2L170.6,204.3L171.2,205.0L171.8,204.2L172.4,203.7L173.0,203.9L173.6,203.4L174.2,205.0L174.8,204.3L175.4,203.7L176.0,203.8L176.6,203.6L177.2,202.9L177.8,204.5L178.4,203.8L179.0,204.5L179.6,203.4L180.2,203.7L180.8,202.8L181.4,202.4L182.0,204.1L182.6,203.8L183.2,202.7L183.8,203.8L184.4,203.5L185.0,202.4L185.6,202.9L186.2,203.6L186.8,202.6L187.4,203.4L188.0,201.9L188.6,202.0L189.2,202.5L189.8,201.4L190.4,201.4L191.0,202.4L191.6,201.4L192.2,201.9L192.8,200.5L193.3,200.1L193.9,200.2L194.4,199.6L195.0,200.9L195.6,199.2L196.1,199.3L196.7,198.0L197.2,198.4L197.8,197.7L198.3,197.3L198.6,196.1L199.0,195.7L199.3,196.6L199.6,195.1L199.9,194.4L200.3,193.7L200.6,193.4L200.9,192.8L201.2,191.8L201.6,192.6L201.7,191.7L201.7,191.1L202.4,190.5L201.9,189.9L202.3,189.3L203.0,188.7L202.4,188.1L202.9,187.5L203.4,186.9L203.6,186.3L203.1,185.7L203.4,185.1L203.9,184.5L203.7,183.9L204.5,183.3L203.9,182.7L204.8,182.1L204.4,181.5L204.2,180.9L204.5,180.3L204.3,179.7L205.0,179.1L204.6,178.5L205.3,177.9L205.1,177.3L205.0,176.7L204.9,176.1L205.4,175.4L205.1,174.8L205.8,174.2L205.2,173.6L205.7,173.0L205.8,172.4L205.6,171.8L206.2,171.2L205.9,170.6L206.3,170.0L206.2,169.4L206.0,168.8L206.2,168.2L206.0,167.6L206.1,167.0L206.9,166.4L206.4,165.8L206.8,165.2L206.3,164.6L206.8,164.0L206.7,163.4L206.9,162.8L206.7,162.2L206.6,161.6L206.9,161.0L206.8,160.4L206.8,159.8L207.5,159.2L207.1,158.6L207.3,157.9L207.8,157.3L207.8,156.7L207.9,156.1L208.0,155.5L207.3,154.9L207.5,154.3L207.3,153.7L208.0,153.1L208.1,152.5L207.9,151.9L208.0,151.3L208.4,150.7L208.5,150.1L208.2,149.5L208.9,148.9L208.5,148.3L208.9,147.7L208.5,147.1L208.6,146.5L209.5,145.9L209.4,145.2L209.5,144.6L208.9,144.0L209.0,143.4L209.2,142.8L209.4,142.2L209.6,141.6L209.8,141.0L209.5,140.4L209.9,139.8L210.3,139.2L210.0,138.6L210.7,138.0L210.6,137.4L210.9,136.8L210.6,136.3L211.0,135.7L211.4,135.1L211.2,134.5L211.0,133.9L212.0,133.3L212.1,132.8L211.8,132.2L211.7,131.6L212.7,132.2L212.6,132.8L212.2,133.3L212.6,133.9L212.6,134.5L213.5,135.1L213.1,135.7L213.9,136.3L213.9,136.8L213.4,137.4L214.2,138.0L214.0,138.6L214.4,139.2L214.6,139.8L214.1,140.4L214.0,141.0L214.9,141.6L214.4,142.2L215.0,142.8L214.9,143.4L215.0,144.0L215.2,144.6L215.0,145.2L214.9,145.9L214.6,146.5L215.3,147.1L215.1,147.7L215.3,148.3L215.8,148.9L215.1,149.5L215.8,150.1L215.1,150.7L215.9,151.3L216.0,151.9L215.6,152.5L215.9,153.1L216.4,153.7L216.2,154.3L216.1,154.9L215.9,155.5L215.8,156.1L216.2,156.7L216.3,157.3L216.2,158.0L216.4,158.6L216.3,159.2L216.9,159.8L216.9,160.4L216.6,161.0L216.7,161.6L217.0,162.2L217.0,162.8L217.5,163.4L217.0,164.0L217.0,164.6L217.6,165.2L216.9,165.8L217.4,166.4L217.2,167.0L217.7,167.6L217.5,168.2L217.8,168.8L217.2,169.4L217.8,170.0L217.8,170.6L217.7,171.2L218.1,171.8L218.3,172.4L217.7,173.0L217.9,173.6L218.1,174.2L218.0,174.8L218.0,175.4L218.3,176.1L218.3,176.7L218.9,177.3L218.7,177.9L218.5,178.5L218.8,179.1L219.0,179.7L219.0,180.3L218.9,180.9L218.9,181.5L218.9,182.1L220.1,182.7L220.0,183.3L219.5,183.9L220.4,184.5L220.8,185.1L220.6,185.7L220.3,186.3L220.9,186.9L221.0,187.5L221.0,188.1L221.5,188.7L221.2,189.3L222.3,189.9L222.2,190.5L222.3,191.1L222.4,192.6L222.8,192.5L223.2,192.1L223.5,192.6L223.9,192.9L224.3,193.1L224.7,195.1L225.0,195.7L225.4,195.0L225.8,195.3L226.2,196.7L226.5,197.6L226.9,198.2L227.3,197.1L227.9,198.5L228.5,198.8L229.1,198.8L229.7,198.1L230.3,198.0L230.9,199.5L231.5,198.6L232.1,198.9L232.7,199.4L233.3,199.3L233.9,200.3L234.5,199.3L235.1,199.1L235.7,200.3L236.3,200.5L236.9,200.9L237.5,200.7L238.2,201.1L238.8,201.2L239.4,200.3L240.0,200.3L240.6,199.5L241.2,199.7L241.8,200.2L242.4,199.1L243.0,200.3L243.6,199.1L244.2,199.6L244.8,200.6L245.4,198.7L246.0,198.5L246.6,199.3L247.2,198.7L247.8,199.4L248.3,197.7L248.9,199.0L249.4,198.7L250.0,198.2L250.5,197.2L251.1,196.6L251.6,197.0L252.2,196.4L252.7,195.9L253.3,195.4L253.6,195.1L254.0,195.0L254.3,194.8L254.6,194.4L255.0,192.4L255.3,192.2L255.7,192.0L256.0,191.7L256.3,190.7L256.7,189.9L256.6,190.0L256.9,189.4L257.2,188.8L257.8,188.2L257.9,187.6L257.9,187.0L258.2,186.4L258.3,185.8L258.0,185.2L258.3,184.6L257.7,184.0L258.4,183.4L258.5,182.8L258.3,182.2L258.7,181.6L259.2,181.0L258.8,180.4L259.1,179.8L258.9,179.2L259.0,178.6L259.7,178.0L258.9,177.4L259.2,176.8L259.8,176.2L259.7,175.6L259.5,175.0L260.2,174.4L260.0,173.8L260.3,173.2L260.3,172.6L260.5,172.1L260.7,171.5L260.6,170.9L260.5,170.3L260.7,169.7L261.5,169.1L261.3,168.5L261.0,167.9L261.8,167.3L261.3,166.7L261.3,166.1L261.8,165.5L261.6,164.9L262.0,164.2L262.1,163.6L261.9,163.0L262.3,162.4L262.0,161.7L262.5,161.1L262.6,160.5L262.2,159.9L262.6,159.2L262.4,158.6L262.8,158.0L263.4,157.4L263.2,156.7L263.5,156.1L263.7,155.5L263.2,154.8L264.2,154.2L264.1,153.5L263.6,152.9L264.5,152.3L264.2,151.6L264.1,151.0L265.0,150.4L264.8,149.8L265.1,149.2L264.7,148.6L265.5,148.0L264.9,147.4L265.2,146.8L265.5,146.1L265.3,145.5L266.1,144.9L265.8,144.3L266.1,143.7L266.7,143.1L266.5,142.5L267.2,143.1L267.1,143.7L267.6,144.3L267.5,144.9L268.0,145.5L268.2,146.2L267.7,146.8L268.4,147.4L268.2,148.0L268.9,148.6L269.0,149.2L269.3,149.8L268.8,150.4L269.2,151.0L269.7,151.7L270.0,152.3L270.0,152.9L269.4,153.5L270.2,154.1L269.8,154.8L270.4,155.4L270.8,156.0L270.2,156.6L271.0,157.3L270.8,157.9L270.5,158.5L270.5,159.2L270.8,159.8L271.2,160.4L271.0,161.1L270.6,161.7L270.6,162.3L270.7,162.9L271.5,163.6L270.9,164.2L271.3,164.8L271.1,165.5L271.6,166.1L271.4,166.7L271.3,167.3L272.1,167.9L271.9,168.5L272.2,169.1L272.4,169.7L272.6,170.3L271.8,170.9L272.3,171.5L272.2,172.1L272.6,172.7L273.1,173.3L273.2,173.9L272.5,174.5L272.8,175.1L273.5,175.7L273.6,176.3L273.5,176.9L273.7,177.5L273.6,178.1L274.4,178.8L274.2,179.4L274.8,180.0L274.8,180.6L274.4,181.2L275.0,181.5L275.4,181.7L275.8,183.6L276.2,183.5L276.6,182.9L277.0,183.6L277.4,184.5L277.9,185.2L278.3,185.9L278.8,186.0L279.2,186.4L279.7,186.1L280.2,187.7L280.6,187.7L281.1,187.5L281.9,188.4L282.7,189.5L283.5,187.6L283.9,188.3L284.2,189.8L284.6,189.5L284.9,190.0L285.3,190.9L285.7,190.9L286.0,192.0L286.4,192.4L286.7,193.7L287.1,194.3L287.4,192.9L287.8,194.5L288.1,195.5L288.4,196.2L288.7,196.6L289.1,196.8L289.4,197.4L289.7,197.4L290.0,197.8L290.4,199.3L290.7,200.0L291.2,200.5L291.7,200.4L292.2,200.0L292.7,201.3L293.1,201.6L293.6,201.5L294.1,202.1L294.6,201.9L295.1,202.6L295.6,202.7L296.2,202.2L296.9,202.9L297.5,203.0L298.1,204.5L298.7,203.6L299.4,203.6L300.0,203.5L300.6,203.6L301.2,203.9L301.9,203.6L302.5,203.4L303.1,205.2L303.7,204.5L304.3,204.6L304.9,204.9L305.6,204.4L306.2,204.3L306.8,204.1L307.4,204.7L308.0,204.8L308.6,205.7L309.3,205.4L309.9,206.3L310.5,205.2L311.1,206.4L311.7,205.8L312.3,204.9L313.0,205.1L313.6,205.9L314.2,206.8L314.8,205.6L315.5,206.5L316.1,205.8L316.7,206.8L317.3,205.2L318.0,206.1L318.6,207.0L319.2,205.8L319.8,205.7L320.4,205.2L321.0,205.5L321.7,205.7L322.3,206.6L322.9,205.6L323.5,206.0L324.1,205.6L324.7,206.4L325.4,206.9L326.0,206.5L326.6,205.6L327.2,206.7L327.8,207.0L328.5,206.2L329.1,205.1L329.8,206.5L330.4,206.6L331.1,205.4L331.7,204.9L332.4,205.0L333.0,205.6L333.5,206.0L334.1,205.2L334.6,205.4L335.2,203.7L335.7,203.7L336.2,204.2L336.8,203.7L337.3,202.9L337.9,203.2L338.4,202.2L338.9,201.2L339.4,201.6L339.9,200.5L340.4,201.3L340.9,200.3L341.3,200.3L341.8,200.1L342.3,199.1L342.8,199.1L343.3,197.8L343.8,199.3L344.2,198.1L344.7,198.6L345.2,196.3L345.6,197.0L346.1,196.8L346.6,195.7L347.0,194.8L347.5,194.5L348.0,194.9L348.5,196.5L349.0,195.6L349.5,197.4L350.0,197.0L350.5,197.6L351.0,198.1L351.5,198.4L352.0,199.0L352.5,199.3L353.0,199.2L353.5,200.3L354.1,199.6L354.6,200.8L355.1,201.2L355.7,201.5L356.2,200.9L356.7,202.1L357.3,202.8L357.8,202.0L358.3,202.0L358.9,202.8L359.4,203.9L360.0,202.4L360.6,202.4L361.1,203.5L361.7,204.0L362.3,204.4L362.9,203.8L363.4,205.2L364.0,203.9L364.6,205.1L365.2,204.0L365.8,204.0L366.3,204.4L366.9,204.4L367.5,205.5L368.1,205.5L368.8,204.7L369.4,206.1L370.0,204.9L370.6,204.4L371.2,204.4L371.9,205.4L372.5,205.7L373.1,204.1L373.8,203.7L374.4,205.1L375.0,204.0L375.6,205.2L376.1,204.0L376.7,204.0L377.2,203.1L377.8,203.8L378.4,202.8L378.9,202.3L379.5,203.2L379.9,201.1L380.2,201.8L380.6,199.9L380.9,200.5L381.3,199.5L381.6,199.9L382.0,197.7L382.3,198.2L382.6,197.5L383.4,196.9L383.7,196.3L383.7,195.8L383.6,195.2L383.9,194.6L384.2,194.0L384.7,193.4L384.8,192.8L385.0,192.3L385.9,191.7L385.9,191.4L386.2,190.1L386.5,190.9L386.8,188.8L387.1,189.0L387.4,187.6L387.7,188.4L387.9,187.8L388.2,186.1L388.5,186.5L388.8,186.0L389.1,184.4L389.4,183.9L389.7,183.6L390.0,183.9L390.5,182.8L391.1,184.3L391.6,184.5L392.1,184.6L392.7,185.3L393.2,186.3L393.6,185.4L394.1,187.2L394.5,186.6L395.0,187.8L395.4,188.4L395.9,187.5L396.3,189.3L396.8,190.0L397.2,189.1L397.8,188.4L398.5,188.4L399.1,190.0L399.8,187.9L400.4,189.5L401.0,187.8L401.7,188.9L402.3,187.4L403.0,187.4L403.6,188.3L404.1,187.5L404.6,188.4L405.1,189.9L405.6,189.9L406.2,190.7L406.7,191.3L407.2,189.8L407.7,190.6L408.1,192.2L408.5,192.4L408.9,191.6L409.3,193.0L409.7,193.0L410.1,193.8L410.5,193.7L410.9,194.0L411.3,196.4L411.7,195.5L412.1,197.2L412.4,196.1L412.8,197.4L413.2,197.2L413.5,198.3L413.9,198.3L414.3,199.8L414.7,199.2L415.0,200.9L415.4,200.9L415.8,200.6L416.1,201.6L416.5,202.4L417.1,203.5L417.7,202.5L418.3,202.5L418.9,204.2L419.5,204.3L420.0,204.2L420.6,203.5L421.2,203.5L421.8,203.9L422.4,203.7L423.0,203.9L423.6,204.9L424.3,204.8L424.9,205.2L425.6,204.8L426.2,204.2L426.8,205.7L427.5,205.7L428.1,205.5L428.8,205.6L429.4,206.0L430.0,206.6L430.6,206.5L431.2,206.3L431.9,205.7L432.5,205.6L433.1,205.9L433.7,207.1L434.3,206.0L434.9,206.1L435.6,206.2L436.2,205.7L436.8,207.5L437.4,205.6L438.0,206.7L438.6,207.3L439.2,205.9L439.9,206.6L440.5,206.0L441.1,205.7L441.7,205.5L442.3,205.3L442.9,206.7L443.6,206.5L444.2,206.7L444.8,204.9L445.4,206.0L446.0,205.0L446.6,205.4L447.2,205.0L447.8,204.3L448.3,205.4L448.9,203.3L449.5,204.5L450.1,204.5L450.7,203.6L451.2,203.4L451.7,203.8L452.2,202.0L452.7,202.4L453.2,202.2L453.8,201.1L454.3,201.4L454.8,200.4L455.3,200.3L455.8,200.1L456.1,199.7L456.5,198.4L456.8,198.5L457.1,197.7L457.5,196.5L457.8,196.7L458.1,195.5L458.5,196.2L458.8,194.7L459.4,194.9L459.9,194.1L460.4,193.6L461.0,192.7L461.4,192.1L461.9,193.1L462.3,191.8L462.7,191.2L463.1,190.7L463.6,190.8L464.0,189.1L464.5,189.3L465.0,191.0L465.4,190.6L465.9,191.3L466.4,192.1L466.9,192.6L467.4,193.0L468.0,191.7L468.5,192.8L469.0,194.2L469.5,194.6L470.1,193.6L470.6,194.1L470.9,194.8L471.1,195.1L471.4,196.1L471.7,197.6L472.0,197.5L472.2,197.9L472.5,197.7L472.8,198.9L473.1,200.6L473.3,200.6L473.6,200.6L474.1,201.0L474.7,201.9L475.2,202.2L475.7,201.3L476.2,202.6L476.8,202.3L477.3,202.9L477.9,202.7L478.4,203.2L478.9,203.4L479.5,203.8L480.1,203.3L480.6,204.0L481.1,205.0L481.7,204.2L482.3,204.6L482.9,205.8L483.6,205.0L484.2,205.2L484.8,205.2L485.4,206.5L486.0,205.2L486.6,206.4L487.2,206.9L487.9,205.8L488.5,206.3L489.1,207.2L489.7,206.8L490.4,206.3L491.0,205.7L491.6,206.5L492.2,206.3L492.9,207.0L493.5,206.2L494.1,206.4L494.8,206.9L495.4,207.2L496.0,206.3L496.6,206.4L497.3,206.8L497.9,207.4L498.7,205.9L499.5,206.5" fill="none" stroke="#111" stroke-width="1.9" stroke-linejoin="round"/>
<path d="M42.4,233.3L43.0,234.2L43.6,233.6L44.2,232.8L44.8,233.3L45.4,232.6L46.0,232.0L46.6,233.3L47.2,232.5L47.8,232.8L48.4,232.7L49.0,233.5L49.7,233.2L50.3,231.8L50.9,232.9L51.5,232.6L52.1,232.6L52.7,233.3L53.3,232.4L53.9,232.5L54.5,233.2L55.1,232.3L55.7,232.3L56.3,232.3L56.9,232.9L57.5,232.5L58.1,232.6L58.7,231.9L59.3,231.1L59.9,232.4L60.5,232.1L61.2,232.5L61.8,232.5L62.4,231.2L63.0,231.4L63.6,231.1L64.2,232.5L64.8,231.0L65.4,230.9L66.0,232.2L66.6,231.7L67.2,230.7L67.8,231.8L68.4,231.8L69.0,231.3L69.6,230.4L70.2,231.6L70.8,230.9L71.4,231.1L72.0,231.8L72.6,231.4L73.2,231.3L73.8,229.8L74.4,230.0L75.0,230.3L75.6,229.1L76.2,231.0L76.8,229.4L77.4,229.2L78.0,229.1L78.6,228.8L79.2,229.9L79.9,229.1L80.5,228.8L81.1,228.5L81.7,227.6L82.3,227.9L82.9,228.8L83.5,228.5L84.1,228.4L84.7,226.9L85.0,227.2L85.0,226.5L85.6,225.9L85.6,225.2L85.9,224.6L86.0,223.9L86.3,223.3L86.2,222.7L86.8,222.0L86.3,221.4L87.2,220.8L86.9,220.1L86.6,219.5L86.9,218.9L87.3,218.2L87.3,217.6L87.6,217.0L87.4,216.4L87.5,215.8L88.2,215.1L87.8,214.5L88.4,213.9L88.8,213.3L88.8,212.8L88.9,212.2L89.6,211.6L89.3,211.0L90.0,210.4L89.4,209.8L90.0,209.2L90.4,208.7L90.1,208.1L91.1,207.5L90.5,206.9L91.3,206.3L91.1,205.8L92.1,205.2L91.9,204.6L92.4,204.0L92.2,203.4L92.4,202.8L92.5,202.2L92.2,201.6L92.2,201.0L92.9,200.4L92.3,199.8L93.2,199.2L92.5,198.6L92.5,198.0L92.6,197.4L93.3,196.8L93.6,196.2L93.1,195.6L93.5,195.0L93.1,194.4L93.9,193.8L93.7,193.2L93.3,192.6L93.3,192.0L94.0,191.4L93.4,190.8L94.3,190.2L93.8,189.6L93.8,189.0L94.3,188.4L94.1,187.8L94.4,187.2L94.1,186.6L94.9,186.0L94.4,185.4L95.0,184.8L94.4,184.2L95.1,183.6L95.4,183.0L94.9,182.4L94.6,181.8L95.0,181.2L95.4,180.6L95.0,180.0L95.4,179.4L95.1,178.8L95.5,178.2L95.9,177.5L95.6,176.9L96.0,176.3L95.5,175.7L96.3,175.1L95.6,174.5L96.5,173.8L96.7,173.2L96.7,172.6L96.4,172.0L96.2,171.4L96.4,170.8L96.8,170.2L96.7,169.5L97.2,168.9L96.4,168.3L96.9,167.7L97.4,167.1L97.2,166.5L97.2,165.8L96.8,165.2L97.0,164.6L97.2,164.0L97.9,163.4L98.0,162.8L97.5,162.2L98.3,161.6L97.5,160.9L98.2,160.3L98.6,159.7L98.1,159.1L98.8,158.5L98.9,157.8L99.0,156.1L99.4,156.2L99.7,156.0L99.8,156.6L100.5,157.2L100.2,157.9L101.1,158.5L100.7,159.1L100.5,159.7L101.1,160.3L100.7,160.9L101.2,161.5L101.5,162.1L101.3,162.8L101.3,163.4L100.9,164.0L101.5,164.6L101.1,165.2L101.7,165.8L101.3,166.4L101.8,167.0L101.6,167.6L101.7,168.2L102.0,168.9L101.5,169.5L101.6,170.1L102.4,170.7L101.8,171.3L102.3,172.0L102.4,172.6L102.1,173.2L101.8,173.8L101.8,174.4L102.6,175.0L101.9,175.7L102.3,176.3L102.3,176.9L102.0,177.5L102.4,178.1L102.1,178.8L102.5,179.4L102.5,180.0L102.4,180.6L102.3,181.2L102.6,181.8L102.5,182.4L102.4,183.0L102.6,183.6L103.3,184.2L103.0,184.8L103.5,185.4L102.6,186.0L103.6,186.6L103.2,187.2L103.6,187.8L103.4,188.4L103.6,189.0L103.2,189.6L103.8,190.2L103.3,190.8L103.5,191.4L103.3,192.0L103.7,192.6L103.9,193.2L103.7,193.8L104.4,194.4L103.6,195.0L104.2,195.6L103.9,196.2L104.3,196.8L104.6,197.4L104.6,198.0L104.0,198.6L104.2,199.2L104.7,199.8L105.1,200.4L104.2,201.0L104.9,201.6L105.0,202.2L105.2,202.8L104.8,203.4L105.3,204.0L105.1,204.6L105.7,205.2L104.9,205.8L105.9,206.4L105.5,207.0L105.6,207.6L105.4,208.2L105.7,208.8L106.3,209.4L106.4,210.0L106.0,210.6L106.3,211.2L106.2,211.8L106.4,212.4L106.5,213.0L106.8,213.6L107.5,214.2L107.7,214.8L107.6,215.4L107.4,216.0L107.7,216.6L108.0,217.7L108.4,218.5L108.7,218.8L109.0,219.1L109.3,218.8L109.6,220.2L110.0,221.3L110.3,221.7L110.6,220.9L111.0,222.6L111.4,222.3L111.8,222.4L112.2,224.4L112.6,224.3L113.0,224.9L113.4,224.1L113.8,226.0L114.5,225.8L115.2,225.5L115.8,224.8L116.5,224.7L117.1,224.2L117.6,223.3L118.2,222.6L118.5,222.8L118.8,222.2L119.1,221.8L119.4,220.2L119.7,221.0L120.0,219.6L120.3,219.9L120.6,217.7L120.9,218.8L121.2,217.9L121.5,216.3L121.8,217.0L122.1,215.3L122.5,214.7L122.8,214.7L123.2,213.7L123.5,213.7L123.9,214.1L124.2,213.1L124.6,212.6L125.0,211.5L125.3,211.8L125.9,211.9L126.5,211.8L127.1,212.4L127.7,212.3L128.1,212.0L128.5,211.9L128.8,213.6L129.2,214.5L129.6,214.1L130.1,215.0L130.5,215.6L130.7,216.2L130.1,216.8L130.7,217.4L130.5,218.1L130.8,218.7L131.6,219.3L131.4,219.9L131.8,220.5L131.9,221.1L132.0,221.7L132.1,222.2L132.5,222.8L133.2,223.3L133.2,223.9L133.1,224.5L133.2,225.0L133.6,225.6L134.3,226.1L134.3,226.6L134.8,227.4L135.3,228.1L135.8,227.2L136.3,228.7L136.8,227.8L137.2,229.8L137.7,228.9L138.2,229.5L138.7,231.3L139.2,230.5L139.8,230.3L140.4,231.7L141.0,231.2L141.7,231.8L142.3,230.9L142.9,231.2L143.5,232.1L144.1,231.3L144.7,232.3L145.4,230.8L146.0,232.1L146.6,230.9L147.2,231.7L147.8,230.6L148.4,231.0L149.0,232.6L149.7,231.7L150.3,232.4L150.9,231.3L151.5,231.6L152.1,231.1L152.7,232.0L153.3,232.7L154.0,232.0L154.6,231.8L155.2,233.0L155.8,232.9L156.4,232.5L157.0,231.4L157.6,232.5L158.3,232.2L158.9,233.2L159.5,232.1L160.1,232.7L160.7,232.6L161.4,232.1L162.0,232.3L162.6,232.6L163.2,233.0L163.9,232.1L164.5,231.8L165.1,233.0L165.8,231.1L166.4,232.6L167.0,232.3L167.6,232.0L168.3,231.7L168.9,232.3L169.5,232.5L170.1,232.1L170.8,232.1L171.4,230.7L172.0,231.2L172.6,230.8L173.3,232.3L173.9,232.2L174.5,230.6L175.1,231.4L175.8,231.4L176.4,230.2L177.0,230.9L177.6,231.5L178.2,231.3L178.9,230.5L179.5,231.4L180.1,230.4L180.7,230.9L181.4,230.6L182.0,231.6L182.6,230.9L183.2,231.1L183.9,230.8L184.5,230.1L185.1,231.2L185.7,230.6L186.4,230.5L187.0,229.6L187.7,229.2L188.3,230.0L188.9,230.4L189.6,230.2L190.2,229.3L190.9,228.8L191.5,229.4L192.2,230.1L192.8,228.4L193.4,229.4L194.0,228.1L194.6,228.2L195.2,227.5L195.8,227.8L196.5,227.8L197.1,228.8L197.7,228.6L198.3,226.9L198.9,227.0L199.5,228.1L199.9,226.0L200.2,225.7L200.6,225.4L200.9,224.2L201.3,224.0L201.7,223.7L202.0,223.1L202.4,223.7L202.7,221.8L202.8,221.7L203.7,221.1L203.4,220.5L203.9,219.9L203.8,219.3L204.1,218.7L203.8,218.1L203.8,217.5L204.6,216.9L204.4,216.3L204.7,215.7L204.9,215.1L205.2,214.5L204.8,213.9L205.1,213.3L205.8,212.7L205.5,212.1L205.4,211.5L205.9,210.8L205.7,210.2L206.4,209.6L205.8,209.0L206.7,208.4L206.6,207.8L206.6,207.2L207.3,206.6L206.9,206.0L207.1,205.4L207.1,204.8L207.8,204.2L208.2,203.6L208.3,203.0L208.3,202.4L208.9,201.8L208.4,201.2L208.8,200.6L209.2,200.3L209.5,200.4L209.9,199.3L210.2,198.9L210.6,198.5L210.9,197.3L211.2,197.9L211.6,197.0L211.7,196.0L212.0,195.4L212.6,194.8L212.3,194.2L212.4,193.6L213.3,192.9L213.1,192.3L213.3,191.7L213.7,191.1L214.1,190.5L213.6,190.0L214.0,189.4L214.0,188.8L214.6,188.2L214.9,187.7L215.5,187.1L215.5,186.5L215.6,185.9L215.7,185.3L216.1,184.8L216.0,184.2L216.8,183.6L216.7,183.6L217.0,183.0L217.3,181.0L217.7,181.4L218.0,180.9L218.3,179.8L218.6,181.1L218.9,181.7L219.2,181.9L219.4,182.6L219.7,182.8L220.4,183.0L219.8,183.6L220.6,184.3L220.7,184.9L220.8,185.5L220.7,186.2L220.6,186.8L221.3,187.4L221.7,188.1L221.4,188.7L221.5,189.3L221.7,189.9L221.8,190.5L222.6,191.1L223.1,191.7L223.1,192.3L222.9,192.9L223.4,193.5L222.9,194.1L223.8,194.8L223.5,195.4L223.3,196.1L224.0,196.7L223.7,197.4L224.0,198.0L223.9,198.6L224.4,199.2L224.6,199.8L224.9,200.4L224.3,201.0L225.2,201.7L224.6,202.3L224.8,202.9L225.3,203.5L225.1,204.1L225.2,204.7L225.6,205.3L225.3,205.9L226.0,206.5L225.5,207.1L226.3,207.7L226.4,208.3L226.2,209.0L225.8,209.6L226.7,210.2L226.0,210.8L226.6,211.4L226.6,212.0L226.5,212.6L227.2,213.2L227.5,213.8L227.5,214.4L227.5,215.0L227.8,215.6L228.1,216.2L227.9,216.8L228.8,217.5L229.1,218.1L229.1,218.7L229.4,219.3L229.0,219.9L229.8,220.5L229.1,221.1L229.7,221.7L230.2,221.4L230.7,222.4L231.2,223.3L231.7,223.8L232.2,223.7L232.7,223.8L233.2,223.9L233.7,224.8L234.2,224.9L234.7,225.2L235.2,226.7L235.7,226.6L236.3,226.6L236.9,226.3L237.5,227.4L238.2,226.5L238.8,226.8L239.4,227.5L240.0,227.9L240.6,228.5L241.2,228.1L241.8,228.5L242.4,228.5L243.0,228.2L243.6,228.2L244.2,227.0L244.8,227.3L245.4,227.0L246.0,228.7L246.6,228.5L247.2,228.4L247.8,227.5L248.4,227.5L249.0,226.9L249.6,227.7L250.2,228.2L250.8,226.7L251.4,226.0L252.1,226.1L252.7,226.3L253.3,227.2L253.9,226.8L254.5,226.0L255.1,225.1L255.7,224.9L256.0,224.5L256.3,225.1L256.5,224.0L256.8,224.5L257.1,223.8L257.4,223.0L257.6,221.8L257.9,221.9L258.2,220.0L258.5,219.4L258.7,219.7L259.0,219.1L259.0,218.5L259.3,217.9L259.4,217.4L260.5,216.8L260.6,216.3L261.1,215.7L261.4,215.2L261.1,214.6L261.7,214.1L261.6,213.5L262.3,213.0L262.6,212.4L262.2,211.8L262.3,211.2L262.7,210.6L263.3,210.0L263.3,209.4L263.2,208.8L264.3,208.2L264.5,207.6L264.4,206.9L264.8,205.5L265.3,206.7L265.7,205.4L266.2,203.9L266.4,204.2L266.9,203.6L267.3,203.0L267.1,202.4L267.4,201.9L267.1,201.3L267.3,200.7L268.1,200.1L267.7,199.5L267.6,198.9L268.3,198.3L268.0,197.8L268.2,197.2L268.6,196.6L268.9,196.0L269.1,195.4L269.3,194.8L269.1,194.2L268.9,193.6L269.7,193.0L269.1,192.5L269.7,191.9L269.7,191.3L270.1,190.7L270.3,190.1L270.2,189.0L270.8,189.1L271.3,188.6L271.9,188.8L272.5,188.8L272.8,189.7L273.1,188.5L273.4,186.8L273.7,186.6L274.0,187.5L274.4,185.4L274.8,185.1L275.2,185.4L275.6,184.8L275.9,185.0L276.2,185.8L276.5,185.0L276.4,186.5L277.4,187.2L277.4,187.9L276.8,188.6L277.0,189.3L277.3,190.0L278.1,190.6L277.5,191.2L278.0,191.8L278.4,192.4L278.1,193.0L278.5,193.6L277.9,194.2L277.9,194.8L277.8,195.4L278.7,196.0L278.1,196.6L279.0,197.2L278.8,197.8L278.3,198.5L279.0,199.1L278.4,199.7L278.8,200.3L278.5,200.9L279.2,201.5L279.4,202.2L279.5,202.8L278.6,203.4L279.6,204.0L279.4,204.7L279.9,205.3L279.8,206.0L280.1,206.7L280.2,207.3L280.6,208.0L280.2,208.6L280.5,209.3L281.3,209.9L281.4,210.6L281.9,211.0L282.2,210.8L282.6,212.8L282.9,211.9L283.3,214.1L283.6,214.6L284.0,214.4L284.4,214.2L284.8,215.7L285.3,215.3L285.7,216.2L286.1,216.0L286.6,218.2L287.1,217.7L287.6,217.8L288.0,217.7L288.5,219.4L289.0,220.1L289.5,220.5L290.0,219.4L290.6,220.3L291.1,220.5L291.6,221.8L292.1,221.0L292.7,222.2L293.2,223.4L293.8,223.4L294.3,222.3L294.9,222.8L295.4,223.3L296.0,224.9L296.6,225.0L297.2,225.2L297.8,225.4L298.4,225.6L299.0,226.3L299.6,226.7L300.2,227.5L300.7,227.5L301.3,228.0L301.8,228.5L302.4,228.7L302.9,228.8L303.5,227.7L304.0,229.4L304.6,229.9L305.2,229.3L305.8,230.4L306.4,229.2L307.0,231.0L307.6,230.2L308.1,230.9L308.7,230.2L309.3,230.6L309.9,230.9L310.5,231.0L311.1,230.8L311.7,231.5L312.3,232.7L313.0,232.1L313.6,232.7L314.2,232.4L314.8,232.6L315.5,233.0L316.1,232.6L316.7,231.7L317.3,231.7L318.0,232.1L318.6,231.4L319.2,231.9L319.8,233.1L320.4,233.1L321.0,231.9L321.7,232.7L322.3,232.6L322.9,232.8L323.5,232.6L324.1,232.0L324.7,231.1L325.4,232.4L326.0,231.4L326.6,231.9L327.2,231.3L327.8,231.6L328.4,232.4L329.1,230.7L329.7,231.4L330.3,231.6L330.9,231.3L331.6,232.0L332.2,230.9L332.8,231.9L333.4,231.4L334.1,231.9L334.7,230.0L335.3,230.2L335.9,230.2L336.5,231.2L337.1,229.3L337.8,229.6L338.4,230.3L339.0,230.6L339.6,228.8L340.2,229.1L340.8,229.4L341.5,229.3L342.1,229.2L342.7,229.0L343.3,227.8L343.9,227.7L344.5,227.1L345.2,228.3L345.8,227.2L346.4,227.2L347.0,228.5L347.7,227.7L348.3,227.5L348.9,227.5L349.5,227.3L350.2,227.3L350.8,226.4L351.4,225.8L352.0,225.8L352.6,225.6L353.2,226.2L353.9,225.7L354.5,225.6L355.1,226.3L355.7,227.2L356.3,226.6L356.9,225.7L357.6,226.6L358.2,225.4L358.8,225.2L359.4,225.5L360.0,225.9L360.6,226.7L361.2,226.4L361.8,227.2L362.4,226.2L362.9,228.1L363.5,227.1L364.1,228.3L364.7,226.9L365.3,228.7L365.9,227.8L366.5,229.2L367.1,229.3L367.7,229.3L368.3,228.7L368.9,228.4L369.5,228.9L370.1,230.6L370.7,229.3L371.3,230.5L371.9,230.6L372.5,230.9L373.1,230.2L373.8,230.1L374.4,230.0L375.1,231.8L375.7,230.6L376.4,231.1L377.0,230.9L377.6,230.0L378.2,229.5L378.8,229.2L379.3,230.7L379.9,229.1L380.5,230.5L381.1,229.1L381.8,229.6L382.4,228.2L383.1,229.3L383.7,228.0L384.4,228.0L385.0,228.0L385.6,226.9L386.2,226.9L386.8,227.6L387.4,226.3L388.0,226.2L388.6,226.6L389.2,225.2L389.7,224.8L390.3,224.5L390.8,224.4L391.3,224.0L391.9,224.1L392.4,223.4L392.9,223.8L393.5,221.8L394.0,222.6L394.5,222.7L395.1,221.2L395.6,220.5L396.1,221.0L396.7,220.0L397.2,220.4L397.7,220.6L398.2,219.0L398.7,218.6L399.2,219.0L399.7,218.0L400.3,217.8L400.8,217.8L401.3,216.8L401.8,216.4L402.3,216.6L402.8,216.4L403.4,217.4L404.0,216.7L404.6,215.8L405.2,216.2L405.9,217.3L406.5,217.0L407.1,217.7L407.7,217.9L408.3,218.0L408.8,216.7L409.4,218.6L409.9,218.0L410.5,217.7L411.1,217.8L411.6,219.5L412.2,218.4L412.7,218.4L413.3,219.0L413.8,220.6L414.4,220.0L414.9,220.8L415.5,219.7L416.0,220.7L416.6,220.7L417.1,220.8L417.6,222.0L418.2,221.6L418.7,221.4L419.3,223.4L419.8,222.7L420.3,222.4L420.9,222.4L421.4,224.0L421.9,224.1L422.5,223.4L423.0,224.6L423.5,225.5L424.1,225.4L424.6,225.2L425.1,226.0L425.7,226.6L426.2,227.0L426.7,226.3L427.3,227.9L427.8,228.4L428.3,228.3L428.9,228.8L429.4,228.1L429.9,229.4L430.5,228.3L431.0,228.6L431.5,229.6L432.1,230.5L432.6,229.2L433.2,229.5L433.9,229.2L434.6,230.1L435.2,229.6L435.9,229.8L436.5,231.0L437.2,230.7L437.8,231.5L438.5,230.5L439.1,231.2L439.7,229.8L440.4,231.7L441.0,230.2L441.6,230.7L442.3,230.8L442.9,231.6L443.5,230.7L444.2,231.7L444.8,230.9L445.4,230.1L446.0,231.4L446.6,230.1L447.3,231.7L447.9,230.6L448.5,230.2L449.1,231.6L449.7,230.3L450.4,230.5L451.0,230.4L451.6,231.0L452.2,229.7L452.8,230.3L453.4,229.7L454.0,230.8L454.6,229.0L455.2,230.0L455.9,229.1L456.5,229.3L457.1,229.4L457.7,229.5L458.3,228.1L458.9,228.2L459.5,227.7L460.1,229.2L460.7,227.4L461.4,227.2L462.0,227.8L462.6,227.7L463.2,228.1L463.8,226.3L464.4,226.4L465.0,226.1L465.7,226.8L466.3,226.3L466.9,226.0L467.4,226.7L468.0,225.9L468.5,226.0L469.0,225.9L469.5,224.2L470.1,225.2L470.6,223.8L471.2,223.1L471.8,224.8L472.5,223.2L473.1,223.0L473.7,223.6L474.3,223.6L474.8,224.5L475.3,224.0L475.8,222.7L476.4,222.5L476.9,222.8L477.4,222.3L477.9,221.6L478.2,222.0L478.5,221.8L478.9,222.7L479.2,224.2L479.5,224.7L480.0,224.8L480.5,224.6L481.0,224.4L481.4,222.2L481.5,222.1L482.5,222.7L482.4,223.3L482.2,223.8L483.0,224.4L483.0,224.5L483.6,224.7L484.1,225.3L484.6,225.9L485.2,226.5L485.5,225.8L485.8,227.6L486.1,227.9L486.7,227.9L487.2,228.6L487.8,229.1L488.4,227.8L488.9,229.0L489.5,229.7L490.0,230.0L490.6,230.2L491.2,229.5L491.8,231.3L492.4,231.2L493.0,230.3L493.6,230.9L494.1,232.2L494.7,230.9L495.3,231.6L495.9,232.9L496.5,233.0L497.2,231.7L497.9,232.7L498.7,231.9L499.4,232.2" fill="none" stroke="#111" stroke-width="1.9" stroke-linejoin="round"/>
<path d="M42.4,256.2L42.9,256.1L43.5,255.9L44.0,254.3L44.6,254.3L45.3,254.1L45.9,254.0L46.6,253.4L47.2,253.4L47.8,253.9L48.4,253.9L49.0,253.2L49.7,254.2L50.3,254.9L50.9,254.2L51.5,253.7L52.1,254.4L52.7,253.9L53.3,253.4L53.9,254.0L54.5,253.0L55.1,254.4L55.7,253.3L56.3,253.7L56.9,254.9L57.5,254.5L58.1,254.7L58.7,254.2L59.3,254.1L59.9,254.2L60.5,254.7L61.2,253.0L61.8,254.1L62.4,253.1L63.0,253.0L63.6,254.0L64.2,253.5L64.8,253.8L65.4,253.7L66.0,252.9L66.6,251.9L67.2,251.3L67.8,252.2L68.4,252.4L69.0,251.2L69.6,250.6L70.2,250.3L70.7,250.4L71.3,251.1L71.8,249.5L72.4,249.7L72.9,249.5L73.5,250.1L74.0,250.4L74.6,248.2L75.1,248.1L75.7,249.4L76.2,249.2L76.7,247.2L77.2,247.2L77.7,247.1L78.2,246.3L78.7,246.1L79.1,245.8L79.6,244.9L80.1,244.1L80.6,243.8L80.8,244.2L80.9,243.6L81.7,243.0L82.1,242.4L81.9,241.8L82.7,241.2L82.9,240.6L82.7,240.0L83.0,239.4L82.8,238.8L83.7,238.2L83.4,237.6L83.1,237.0L83.3,236.4L83.9,235.8L83.7,235.2L84.2,234.6L83.8,234.0L84.5,233.4L84.6,232.8L84.1,232.2L84.7,231.6L84.4,231.0L85.0,230.4L85.2,229.8L85.4,229.2L84.9,228.6L84.9,228.0L85.6,227.4L85.6,226.8L85.3,226.2L85.5,225.6L86.0,225.0L85.6,224.4L86.3,223.8L86.0,223.2L86.1,222.6L86.4,222.0L86.7,221.4L87.0,220.8L86.4,220.1L87.2,219.5L86.8,218.9L87.0,218.2L87.5,217.6L87.7,217.0L87.7,216.4L88.2,215.8L87.6,215.1L87.8,214.5L88.2,213.9L87.9,213.3L87.8,212.6L87.9,212.0L88.5,211.4L88.6,210.8L88.6,210.2L88.9,209.6L88.8,208.9L88.3,208.3L88.4,207.7L88.9,207.1L88.2,206.5L88.9,205.9L88.4,205.2L88.4,204.6L88.9,204.0L88.6,203.4L89.5,202.8L89.5,202.2L89.2,201.6L89.0,201.0L89.0,200.4L89.5,199.8L89.6,199.2L89.5,198.6L89.9,198.0L89.8,197.4L90.1,196.8L89.5,196.2L89.6,195.6L90.0,195.0L90.2,194.4L90.0,193.8L90.5,193.2L90.1,192.6L90.3,192.0L90.6,191.4L90.9,190.8L91.0,190.2L90.7,189.6L90.8,189.0L91.4,188.4L91.5,187.8L91.3,187.2L90.8,186.6L91.3,186.0L91.5,185.4L91.2,184.8L91.1,184.2L92.1,183.6L92.1,183.0L91.4,182.4L91.8,181.8L92.1,181.2L91.8,180.6L91.7,180.0L92.4,179.4L92.5,178.8L92.3,178.2L92.0,177.6L92.4,177.0L92.2,176.4L93.1,175.8L92.3,175.2L92.6,174.6L93.2,174.0L92.6,173.4L92.7,172.8L92.7,172.2L92.9,171.6L93.3,171.0L93.7,170.4L93.1,169.8L93.2,169.2L93.9,168.6L93.6,168.0L93.6,167.4L93.5,166.8L93.7,166.2L94.5,165.6L93.7,165.0L94.0,164.3L94.6,163.7L94.9,163.0L94.6,163.1L95.2,162.2L95.8,163.1L96.4,162.3L96.8,162.0L97.0,162.6L97.4,163.2L97.5,163.8L96.9,164.4L97.1,165.0L97.9,165.6L97.1,166.2L97.9,166.8L97.5,167.4L97.5,168.0L97.6,168.6L97.9,169.2L98.5,169.8L97.7,170.4L98.5,171.0L98.0,171.6L98.0,172.2L98.6,172.8L98.3,173.4L98.2,174.0L98.5,174.6L99.0,175.2L99.1,175.8L98.9,176.4L98.4,177.0L99.3,177.6L99.2,178.2L99.5,178.8L99.7,179.4L99.1,180.0L99.7,180.6L99.7,181.2L99.2,181.8L99.4,182.4L99.5,183.0L99.5,183.6L99.6,184.2L99.4,184.8L99.6,185.4L100.3,186.0L99.9,186.6L100.2,187.2L100.5,187.8L100.4,188.4L99.9,189.0L100.7,189.6L100.6,190.2L100.9,190.8L100.7,191.4L100.8,192.0L100.9,192.6L100.4,193.2L100.8,193.8L100.6,194.4L101.1,195.0L100.5,195.6L101.0,196.2L100.8,196.8L101.4,197.4L100.9,198.0L101.5,198.6L101.6,199.2L101.7,199.8L101.0,200.4L101.8,201.0L101.7,201.6L101.7,202.2L101.7,202.8L101.2,203.4L102.1,204.0L101.8,204.6L101.8,205.2L101.8,205.8L102.4,206.5L102.5,207.1L102.6,207.7L102.1,208.3L102.3,208.9L102.3,209.5L102.3,210.2L102.6,210.8L102.4,211.4L103.2,212.0L102.8,212.6L102.7,213.2L102.8,213.8L103.6,214.5L103.1,215.1L103.5,215.7L103.5,216.3L104.0,216.9L104.3,217.5L103.7,218.2L104.1,218.8L104.5,219.4L104.2,220.0L104.7,220.6L104.7,221.2L104.4,221.8L105.1,222.5L104.9,223.1L104.5,223.7L105.1,224.3L105.5,224.9L105.3,225.5L105.4,226.2L105.5,226.8L106.1,227.4L106.0,228.0L105.7,228.6L106.1,229.2L106.3,229.8L107.1,230.4L107.0,231.0L106.6,231.6L107.6,232.2L106.9,232.8L107.7,233.4L107.7,234.0L108.2,234.6L108.2,235.1L108.5,234.9L108.8,236.3L109.1,237.4L109.4,237.9L109.7,237.6L110.0,237.8L110.3,239.4L110.6,240.0L110.9,239.4L111.2,241.3L111.8,241.2L112.4,239.8L113.0,239.4L113.6,239.7L114.2,240.8L114.5,240.5L114.8,239.9L115.0,239.3L115.6,238.7L115.2,238.1L115.8,237.6L115.9,237.0L116.3,236.4L116.0,235.8L117.0,235.2L117.2,234.6L117.0,233.9L117.5,233.3L117.2,232.7L118.1,232.1L118.0,231.4L118.5,230.8L118.8,230.3L118.6,229.7L119.4,229.2L119.0,228.6L119.1,228.1L119.8,227.5L120.5,227.0L120.7,226.4L120.6,226.8L121.4,225.5L122.2,226.0L122.8,225.8L123.3,225.5L124.0,226.7L124.4,227.3L124.3,227.8L124.7,228.4L124.6,229.0L124.9,229.6L125.3,230.1L125.6,230.7L125.8,231.3L125.7,231.8L125.8,232.4L126.4,233.0L127.0,233.5L127.2,234.1L127.0,234.7L127.2,235.3L127.7,235.8L127.6,236.4L128.2,237.0L128.8,237.5L128.3,238.1L128.9,238.7L129.3,239.3L129.5,239.8L129.7,240.4L130.0,240.9L129.8,241.5L130.6,242.0L131.0,242.6L130.4,243.1L131.5,243.7L131.3,244.2L131.2,244.7L131.5,245.3L132.5,245.8L132.6,246.4L132.7,246.2L133.2,247.2L133.7,248.0L134.1,249.1L134.6,248.1L135.1,249.4L135.6,248.7L136.1,249.0L136.5,249.3L137.0,250.2L137.5,251.0L138.1,250.6L138.8,250.5L139.4,250.8L140.1,250.8L140.7,251.2L141.4,251.6L142.0,252.2L142.7,251.7L143.3,252.4L143.9,252.4L144.6,253.5L145.2,252.7L145.9,253.7L146.5,252.8L147.2,252.4L147.8,253.2L148.4,252.4L149.0,252.5L149.6,252.4L150.2,253.7L150.8,254.3L151.4,253.2L152.0,253.2L152.6,253.4L153.2,253.2L153.9,253.9L154.5,253.3L155.1,252.9L155.7,254.3L156.4,253.8L157.0,252.6L157.6,254.3L158.2,254.1L158.9,253.4L159.5,253.9L160.1,254.5L160.7,253.5L161.4,253.5L162.0,253.2L162.6,253.7L163.2,253.9L163.9,254.0L164.5,254.4L165.1,252.8L165.8,253.2L166.4,254.2L167.0,254.0L167.6,253.6L168.3,253.8L168.9,253.1L169.5,254.3L170.1,253.4L170.8,253.1L171.4,252.7L172.1,252.5L172.7,254.0L173.4,253.8L174.0,252.2L174.7,252.7L175.3,253.0L176.0,253.0L176.7,252.6L177.3,253.6L178.0,252.3L178.7,252.6L179.3,253.3L180.0,252.6L180.6,252.1L181.2,251.7L181.9,251.7L182.5,252.0L183.1,252.2L183.8,251.0L184.4,251.1L185.0,251.0L185.6,250.7L186.2,251.5L186.8,250.5L187.4,249.7L188.0,249.5L188.6,250.2L189.2,248.6L189.8,249.4L190.3,247.7L190.9,247.7L191.4,247.1L192.0,248.2L192.5,246.6L193.1,246.4L193.6,245.7L194.2,245.8L194.7,246.4L195.0,245.8L195.4,245.6L195.7,245.2L196.0,243.9L196.3,244.1L196.7,241.9L197.0,243.0L197.3,241.5L197.6,240.5L198.0,241.0L198.7,240.0L198.4,239.4L198.3,238.8L199.2,238.3L199.3,237.7L199.3,237.1L199.9,236.5L199.1,236.0L199.3,235.4L199.6,234.8L199.7,234.2L200.5,233.7L200.6,233.1L200.3,232.5L200.5,231.9L200.7,231.3L201.3,230.7L201.5,230.1L202.0,229.5L201.5,229.0L202.3,228.4L201.9,227.8L202.1,227.2L202.1,226.6L202.2,226.0L203.1,225.4L203.3,224.8L203.1,224.2L202.7,223.6L202.9,223.0L203.0,222.4L203.3,221.8L203.9,221.2L203.3,220.5L203.9,219.9L204.2,219.3L203.7,218.7L204.3,218.1L204.8,217.5L204.7,216.9L204.7,216.3L205.3,215.7L205.2,215.1L205.0,214.5L205.3,213.9L206.0,213.3L206.0,212.7L206.2,212.1L206.0,211.5L205.8,210.9L206.0,210.3L206.3,209.6L206.8,209.0L206.3,208.4L207.2,207.8L207.4,207.2L207.2,206.6L206.9,206.0L207.8,205.4L207.6,204.8L208.0,204.2L208.1,203.6L208.4,202.9L208.3,202.3L209.0,201.6L209.2,201.0L209.4,200.3L209.2,199.7L209.1,199.0L209.3,198.4L209.4,197.8L210.2,197.2L210.2,196.6L210.4,196.0L210.6,195.3L210.9,194.7L210.8,194.1L210.6,193.5L211.2,192.9L211.1,191.8L211.5,193.0L211.9,192.6L212.3,194.4L212.7,194.1L213.1,194.2L213.9,195.1L213.3,195.7L214.4,196.3L214.4,196.9L214.0,197.6L214.9,198.2L214.9,198.8L215.5,199.4L215.4,200.0L215.4,200.6L216.0,201.2L215.3,201.8L216.2,202.4L215.6,203.0L215.9,203.6L215.9,204.2L216.8,204.8L216.5,205.4L217.0,206.1L216.7,206.7L217.3,207.3L217.3,207.9L216.9,208.5L217.5,209.1L217.8,209.7L217.5,210.3L218.1,210.9L217.8,211.5L218.1,212.1L218.7,212.7L218.9,213.3L219.0,213.9L218.6,214.6L218.8,215.2L219.2,215.8L219.3,216.4L219.1,217.0L219.6,217.6L219.2,218.2L219.9,218.9L219.5,219.5L219.3,220.1L220.0,220.7L219.6,221.3L220.2,221.9L219.7,222.5L220.7,223.2L220.4,223.8L220.7,224.4L220.2,225.0L220.9,225.6L220.9,226.2L220.9,226.8L221.7,227.4L221.1,228.0L221.7,228.6L221.5,229.2L222.5,229.8L222.7,230.3L222.0,230.9L222.6,231.5L222.8,232.1L223.3,232.7L223.5,233.3L223.3,233.9L224.0,234.5L223.5,235.1L223.7,235.6L224.7,236.2L224.2,236.7L224.5,237.3L225.1,237.9L225.2,238.4L225.2,239.0L226.2,239.5L226.0,240.1L226.6,240.7L226.3,241.2L227.2,241.8L226.8,242.3L227.3,243.7L227.7,243.7L228.0,244.9L228.4,245.1L228.7,245.3L229.1,245.7L229.5,246.8L229.8,246.6L230.2,246.4L230.5,248.6L230.9,248.9L231.5,248.6L232.1,248.6L232.7,247.5L233.3,247.9L233.9,248.6L234.5,248.8L235.1,248.6L235.7,247.0L236.3,248.2L236.9,248.1L237.5,247.9L238.1,247.5L238.8,247.6L239.4,248.4L240.0,248.6L240.6,248.2L241.2,248.4L241.8,248.7L242.4,249.0L243.0,248.6L243.6,247.7L244.2,249.1L244.8,248.0L245.4,249.1L246.0,249.1L246.5,247.0L247.0,247.5L247.5,248.0L248.0,246.4L248.4,246.4L248.9,245.6L249.4,244.6L249.9,244.6L250.4,244.1L250.9,244.1L251.2,244.2L251.6,243.5L251.9,243.8L252.2,242.7L252.5,241.5L252.9,242.1L253.2,240.9L253.5,240.2L253.8,240.3L254.2,239.4L254.4,238.5L254.7,237.9L254.5,237.3L255.3,236.6L254.7,236.0L255.6,235.4L254.9,234.8L255.0,234.2L255.8,233.6L255.6,233.0L256.1,232.4L255.9,231.8L256.8,231.2L256.9,230.6L257.1,230.0L257.5,229.4L257.7,228.8L257.6,228.2L257.8,227.5L257.3,226.9L257.5,226.3L258.0,225.7L258.8,225.1L258.4,224.5L258.9,223.9L258.6,223.3L259.3,222.7L260.0,222.1L259.9,221.5L260.4,220.9L259.9,220.3L260.3,219.7L260.5,219.1L261.4,218.5L260.9,217.9L261.8,217.2L261.3,216.6L262.1,216.0L261.8,215.4L261.7,214.8L262.4,214.2L261.9,213.6L262.3,213.0L261.8,212.4L262.6,211.8L262.9,211.2L262.1,210.6L262.8,210.0L262.4,209.4L262.4,208.8L262.7,208.2L263.1,207.6L263.4,207.1L263.6,206.5L263.7,205.9L263.4,205.3L263.5,204.7L263.1,204.1L263.7,203.5L263.6,202.9L263.5,202.3L264.2,201.7L263.6,201.1L263.6,200.5L263.7,199.9L263.8,199.3L264.2,198.9L264.5,199.8L264.8,199.1L265.0,200.3L265.3,201.0L265.6,201.5L265.9,201.7L266.2,202.5L266.5,202.0L266.7,202.6L267.0,203.9L267.3,204.1L267.6,205.6L267.9,205.1L268.2,206.8L268.4,206.2L268.7,206.4L269.0,207.8L269.4,208.1L269.8,208.5L270.2,209.9L270.6,209.4L271.0,210.8L271.7,211.0L271.5,211.6L271.7,212.2L272.3,212.8L272.1,213.3L271.9,213.9L271.9,214.5L272.1,215.1L272.5,215.7L272.4,216.3L273.1,216.8L273.1,217.4L273.1,218.0L273.5,218.6L274.0,219.2L273.5,219.8L273.6,220.3L273.9,220.9L274.1,221.5L274.8,222.1L274.7,222.7L274.6,223.3L274.5,223.9L274.5,224.5L274.7,225.1L275.6,225.7L275.5,226.4L275.2,227.0L275.8,227.6L275.3,228.2L275.9,228.8L275.9,229.4L276.2,229.2L276.7,230.9L277.2,231.2L277.6,231.2L278.1,230.9L278.6,232.3L279.0,232.4L279.3,233.5L279.7,232.9L280.0,235.1L280.4,233.9L280.7,234.9L281.1,235.8L281.5,235.8L282.0,236.1L282.4,237.7L282.8,238.8L283.3,237.9L283.7,238.2L284.2,239.5L284.6,239.0L285.0,239.8L285.5,240.8L285.9,240.8L286.3,240.7L286.7,241.0L287.1,242.5L287.5,243.9L287.9,244.2L288.3,243.1L288.7,244.4L289.1,244.9L289.5,244.8L289.9,246.2L290.3,246.4L290.7,247.5L291.2,246.9L291.7,248.5L292.1,248.7L292.6,248.4L293.1,248.1L293.6,249.1L294.0,248.8L294.5,250.3L295.0,250.7L295.6,250.7L296.2,251.7L296.9,250.1L297.5,251.7L298.1,252.1L298.8,251.0L299.4,251.6L300.0,251.3L300.6,252.4L301.2,252.7L301.9,252.0L302.5,252.8L303.1,252.1L303.7,252.9L304.3,252.2L304.9,253.7L305.6,252.8L306.2,252.0L306.8,252.3L307.4,253.7L308.0,254.1L308.6,253.8L309.3,252.9L309.9,254.5L310.5,254.3L311.1,253.2L311.7,253.8L312.3,254.5L313.0,253.2L313.6,253.3L314.2,254.0L314.8,255.1L315.5,255.4L316.1,254.1L316.7,255.4L317.3,255.2L318.0,255.4L318.6,254.9L319.2,255.7L319.8,255.0L320.4,255.6L321.0,254.8L321.7,254.0L322.3,254.6L322.9,254.5L323.5,254.2L324.1,254.2L324.7,254.5L325.4,254.6L326.0,253.8L326.6,253.9L327.2,254.3L327.8,254.3L328.5,254.1L329.1,254.5L329.8,253.5L330.4,254.2L331.1,253.7L331.7,254.6L332.4,254.4L333.0,254.6L333.6,253.8L334.1,253.1L334.7,254.2L335.3,253.2L335.9,252.7L336.4,252.3L337.0,252.3L337.6,252.6L338.2,252.5L338.8,251.4L339.4,251.6L340.0,250.2L340.6,250.3L341.1,249.7L341.6,249.2L342.2,248.9L342.8,249.2L343.3,248.8L343.9,247.4L344.5,247.2L345.1,248.0L345.7,247.4L346.3,247.2L346.9,246.8L347.5,246.6L348.1,245.4L348.6,245.4L349.2,246.4L349.7,246.1L350.3,248.3L350.8,247.8L351.4,248.4L351.9,249.4L352.5,249.4L353.0,248.7L353.5,249.2L354.1,249.1L354.6,250.8L355.1,251.0L355.7,250.8L356.2,250.9L356.7,251.1L357.3,251.8L357.8,252.6L358.3,253.3L358.9,253.6L359.4,253.9L360.0,253.2L360.7,253.4L361.3,253.3L362.0,254.8L362.6,253.4L363.2,253.2L363.8,253.4L364.4,254.5L365.1,254.3L365.7,253.2L366.3,254.1L366.9,254.1L367.5,253.1L368.1,252.4L368.6,253.3L369.2,252.3L369.7,251.6L370.3,252.9L370.9,251.8L371.4,251.5L372.0,251.6L372.5,250.7L373.1,250.0L373.7,250.6L374.3,250.4L374.8,249.5L375.4,250.1L376.0,250.7L376.6,249.7L377.2,250.2L377.8,249.9L378.3,248.9L378.9,248.4L379.5,249.5L379.9,248.9L380.3,247.8L380.6,247.2L381.0,248.0L381.4,247.6L381.8,245.8L382.1,246.0L382.5,245.5L382.9,244.6L383.3,243.5L383.6,243.6L384.0,243.8L384.4,243.2L384.8,242.5L385.1,241.3L385.5,241.0L385.9,240.7L386.3,240.5L386.7,239.9L387.1,240.5L387.5,238.4L387.9,239.7L388.4,237.7L388.8,238.5L389.2,236.7L389.6,237.0L390.0,236.1L390.3,234.8L390.7,235.7L391.0,235.2L391.4,233.5L391.7,233.9L392.1,232.7L392.4,233.2L392.8,231.8L393.2,233.0L393.6,233.2L394.0,234.5L394.4,235.3L394.8,236.0L395.2,235.9L395.6,236.1L396.2,236.7L396.7,235.1L397.3,235.1L397.9,235.9L398.5,235.0L399.0,235.9L399.6,233.9L400.2,235.0L400.7,234.8L401.3,234.7L401.9,235.3L402.5,235.6L403.0,236.5L403.6,237.0L404.1,237.5L404.6,237.5L405.1,238.7L405.6,238.7L406.1,240.1L406.5,238.8L407.0,239.9L407.5,240.3L408.0,240.4L408.5,241.8L409.0,240.9L409.6,242.6L410.1,241.9L410.6,242.2L411.2,243.1L411.7,243.4L412.2,243.2L412.8,243.1L413.3,245.2L413.8,244.4L414.3,244.3L414.8,245.7L415.3,245.9L415.8,245.8L416.3,246.2L416.8,247.6L417.3,247.0L417.8,247.5L418.3,249.0L418.8,248.2L419.3,248.6L419.8,248.5L420.3,249.9L420.9,250.2L421.4,250.1L421.9,250.3L422.5,250.3L423.0,251.8L423.5,251.4L424.1,252.5L424.6,251.9L425.1,253.0L425.7,251.9L426.2,252.6L426.8,254.2L427.5,253.7L428.1,253.8L428.8,253.5L429.4,253.5L430.0,253.1L430.7,253.1L431.3,254.1L432.0,254.3L432.6,253.5L433.2,254.3L433.8,253.2L434.4,254.2L435.0,253.2L435.6,253.9L436.2,253.5L436.8,253.9L437.4,253.1L438.0,253.7L438.6,253.9L439.2,252.9L439.9,253.2L440.5,253.9L441.1,253.5L441.7,253.6L442.3,253.9L442.9,253.4L443.6,252.7L444.2,253.0L444.8,253.8L445.4,253.0L446.0,253.1L446.6,252.1L447.2,252.1L447.8,252.9L448.3,252.4L448.9,251.8L449.5,250.5L450.1,251.3L450.7,249.9L451.2,251.3L451.8,251.0L452.4,250.2L452.9,248.9L453.4,249.7L454.0,248.0L454.6,248.9L455.1,247.9L455.6,246.5L456.1,247.9L456.6,246.5L457.1,246.9L457.5,246.2L458.0,245.5L458.5,245.7L459.0,244.0L459.5,245.0L460.1,243.8L460.8,243.1L461.4,243.6L462.1,242.9L462.7,242.8L463.4,243.8L464.0,242.7L464.6,242.7L465.3,242.9L465.9,242.7L466.5,243.9L467.1,243.7L467.8,243.6L468.4,243.7L468.8,243.1L469.3,244.3L469.7,243.8L470.1,245.7L470.5,246.0L471.0,246.3L471.4,245.9L471.9,246.0L472.4,248.1L472.9,247.7L473.4,248.3L473.8,249.2L474.3,248.2L474.8,249.7L475.3,249.6L475.8,250.7L476.4,250.3L476.9,250.0L477.4,251.8L478.0,250.8L478.6,252.0L479.1,252.4L479.6,251.5L480.2,252.7L480.8,252.3L481.4,252.2L482.0,252.4L482.6,254.1L483.1,253.1L483.7,253.6L484.3,253.8L484.9,253.1L485.5,254.8L486.1,255.0L486.8,255.3L487.4,254.4L488.1,254.2L488.7,254.6L489.4,255.4L490.0,255.3L490.7,254.9L491.3,255.3L492.0,254.6L492.6,256.0L493.2,254.9L493.8,254.8L494.4,255.2L495.0,253.9L495.6,254.7L496.2,253.6L496.7,254.3L497.3,252.6L497.9,252.7L498.7,253.3L499.5,253.0" fill="none" stroke="#111" stroke-width="1.9" stroke-linejoin="round"/>
<circle cx="94.9" cy="53.3" r="1.85" fill="#111"/>
<circle cx="125.2" cy="139.7" r="1.85" fill="#111"/>
<circle cx="211.0" cy="88.5" r="1.85" fill="#111"/>
<circle cx="266.1" cy="99.6" r="1.85" fill="#111"/>
<circle cx="391.9" cy="150.5" r="1.85" fill="#111"/>
<circle cx="462.8" cy="156.3" r="1.85" fill="#111"/>
<circle cx="352.3" cy="55.3" r="1.85" fill="#111"/>
<text x="40.2" y="10.7" font-size="13.2" text-anchor="end" >1000</text>
<text x="40.1" y="108.4" font-size="13.2" text-anchor="end" >600</text>
<text x="40.3" y="208.9" font-size="13.4" text-anchor="end" >200</text>
<text x="40.1" y="256.1" font-size="13.2" text-anchor="end" fill="#555">0</text>
<text x="70.4" y="275.2" font-size="14.8" text-anchor="middle" >25</text>
<text x="103.1" y="275.2" font-size="14.8" text-anchor="middle" >30</text>
<text x="132.5" y="275.2" font-size="14.8" text-anchor="middle" >35</text>
<text x="164.8" y="275.2" font-size="14.8" text-anchor="middle" >40</text>
<text x="193.8" y="275.2" font-size="14.8" text-anchor="middle" >45</text>
<text x="226.5" y="275.2" font-size="14.8" text-anchor="middle" >50</text>
<text x="255.6" y="275.2" font-size="14.8" text-anchor="middle" >55</text>
<text x="285.2" y="275.2" font-size="14.8" text-anchor="middle" >60</text>
<text x="314.1" y="275.2" font-size="14.8" text-anchor="middle" >65</text>
<text x="347.5" y="275.2" font-size="14.8" text-anchor="middle" >70</text>
<text x="375.9" y="275.2" font-size="14.8" text-anchor="middle" >75</text>
<text x="409.0" y="275.2" font-size="14.8" text-anchor="middle" >80</text>
<text x="437.5" y="275.2" font-size="14.8" text-anchor="middle" >85</text>
<text x="470.4" y="275.2" font-size="14.8" text-anchor="middle" >90</text>
<text x="241.5" y="293.5" font-size="15.4" textLength="73.4" lengthAdjust="spacingAndGlyphs">2θ (degree)</text>
<text x="0" y="0" font-size="15.6" textLength="94.2" lengthAdjust="spacingAndGlyphs" transform="translate(12.8,182.4) rotate(-90)">Intensity (Cps)</text>
<text x="150.7" y="171.8" font-size="13.2" textLength="19.08" lengthAdjust="spacingAndGlyphs">650</text>
<text x="169.9" y="168.2" font-size="7.8">O</text>
<text x="175.0" y="172.0" font-size="13.3" textLength="10.7" lengthAdjust="spacingAndGlyphs">C</text>
<text x="152.4" y="200.5" font-size="13.2" textLength="19.72" lengthAdjust="spacingAndGlyphs">600</text>
<text x="172.1" y="197.2" font-size="7.8">O</text>
<text x="177.0" y="200.5" font-size="13.3" textLength="10.7" lengthAdjust="spacingAndGlyphs">C</text>
<text x="152.2" y="225.4" font-size="13.2" textLength="19.61" lengthAdjust="spacingAndGlyphs">550</text>
<text x="171.7" y="221.5" font-size="7.8">O</text>
<text x="177.0" y="225.8" font-size="13.3" textLength="10.7" lengthAdjust="spacingAndGlyphs">C</text>
<text x="151.6" y="248.5" font-size="13.2" textLength="19.72" lengthAdjust="spacingAndGlyphs">450</text>
<text x="171.7" y="244.1" font-size="7.8">O</text>
<text x="177.0" y="248.5" font-size="13.3" textLength="10.7" lengthAdjust="spacingAndGlyphs">C</text>
<text x="356.9" y="57.9" font-size="11.7">phase of Ce<tspan font-size="7.6" dy="3.2">0.5</tspan><tspan dy="-3.2">Zr</tspan><tspan font-size="7.6" dy="3.2">0.5</tspan><tspan dy="-3.2">O</tspan><tspan font-size="7.6" dy="3.2">2</tspan></text>
</svg>
</body></html>
